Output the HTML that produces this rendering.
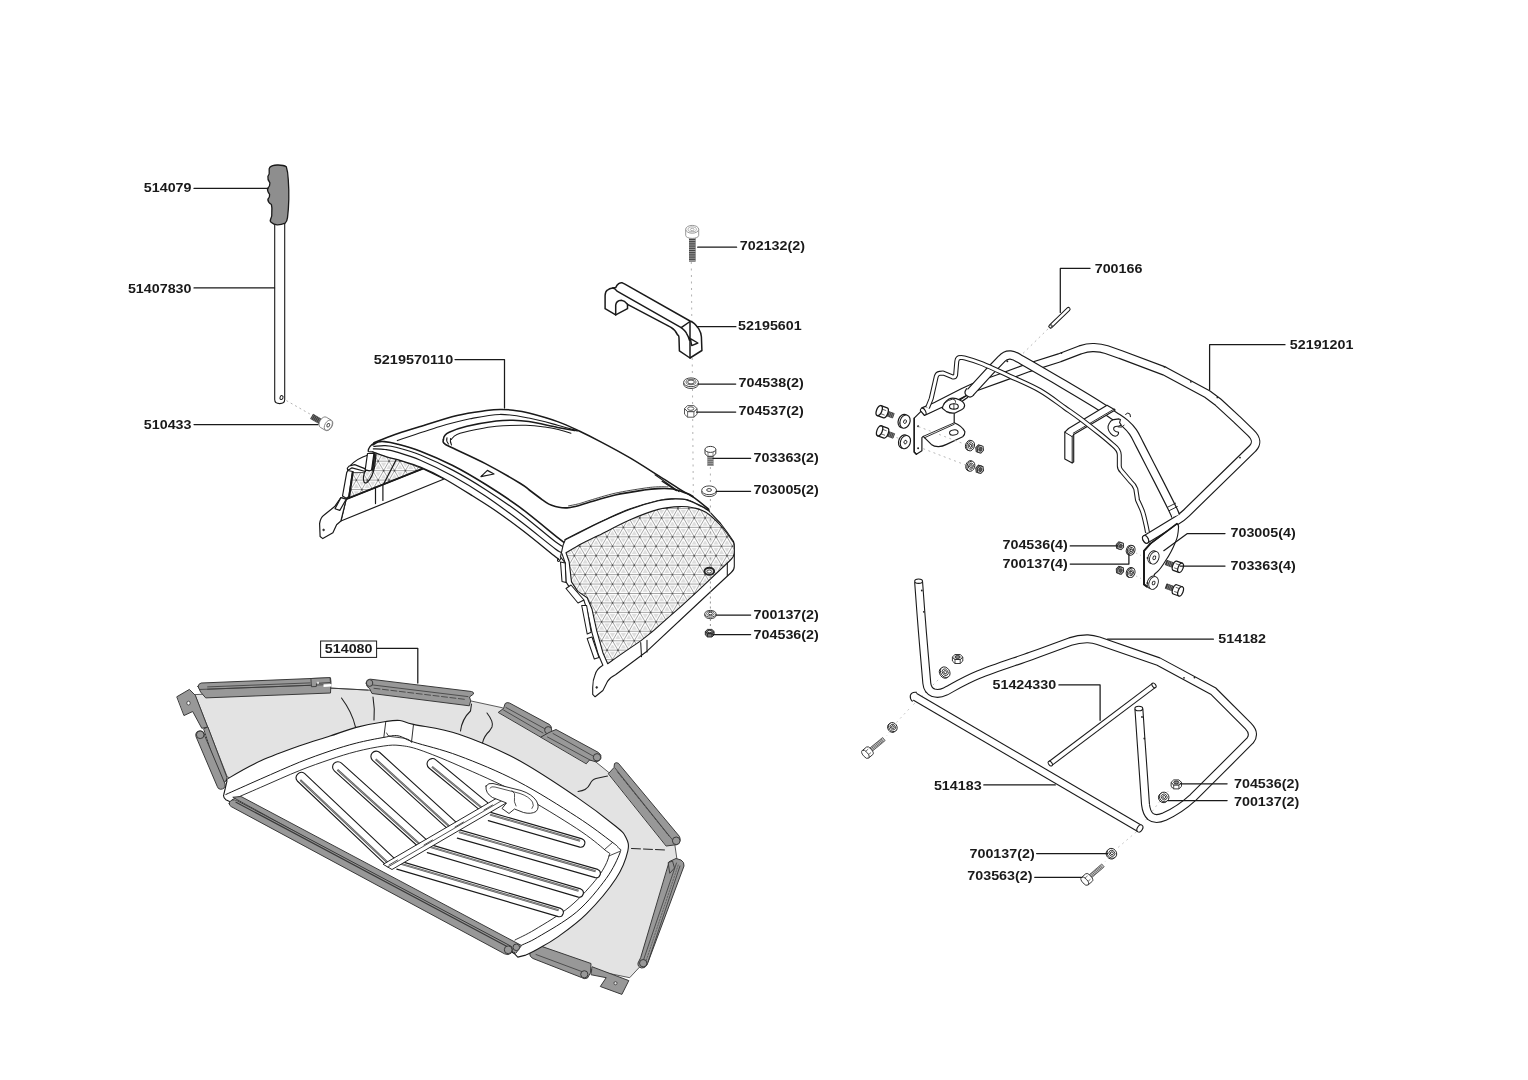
<!DOCTYPE html>
<html><head><meta charset="utf-8"><title>Parts diagram</title>
<style>
html,body{margin:0;padding:0;background:#fff;}
body{width:1528px;height:1080px;overflow:hidden;}
svg{display:block;}
text{font-family:"Liberation Sans",sans-serif;font-weight:bold;font-size:13.7px;fill:#1a1a1a;}
svg{will-change:transform;transform:translateZ(0);}
</style></head><body>
<svg width="1528" height="1080" viewBox="0 0 1528 1080">
<rect width="1528" height="1080" fill="#fff"/>
<g id="handle">
<path d="M274.7 222V399.5Q274.7 403.6 279.7 403.6Q284.7 403.6 284.7 399.5V222Z" fill="#fff" stroke="#1a1a1a" stroke-width="1.1" stroke-linejoin="round" stroke-linecap="round" />
<ellipse cx="281.5" cy="397.6" rx="1.5" ry="2.0" fill="#fff" stroke="#1a1a1a" stroke-width="1.0" transform="rotate(20 281.5 397.6)"/>
<path d="M269.9 167.2Q272 165.2 277.1 165Q283.5 164.8 286.3 166.8Q288 172 288.3 180Q289 190 288.8 199.3Q288.6 209 287.5 217.6Q287 221.5 285.2 223.1Q281 224.9 277.1 224.8Q273.5 224.6 271.8 222.8Q269.6 221.5 270.5 219.6Q272.3 216 271.8 212.4Q272.2 207.5 271.4 204.5Q267.6 202 267.9 199.3Q270 197 269.6 194.3Q267 191 267.6 188.4Q270.2 186 269.9 182.9Q267.3 179.5 267.9 176.4Q269.8 174 269.2 171.1Q268.8 168.6 269.9 167.2Z" fill="#8e8e8e" stroke="#1a1a1a" stroke-width="1.3" stroke-linejoin="round" stroke-linecap="round" />
<path d="M286.4 400.6L310.6 414.4" fill="none" stroke="#aaa" stroke-width="0.9" stroke-dasharray="2 3"/>
<g transform="translate(311.6 416.3) rotate(30.4)">
<rect x="0" y="-2.9" width="11.3" height="5.8" fill="#3a3a3a"/>
<line x1="1.2" y1="-2.9" x2="1.2" y2="2.9" stroke="#8a8a8a" stroke-width="0.6"/>
<line x1="3.0" y1="-2.9" x2="3.0" y2="2.9" stroke="#8a8a8a" stroke-width="0.6"/>
<line x1="4.8" y1="-2.9" x2="4.8" y2="2.9" stroke="#8a8a8a" stroke-width="0.6"/>
<line x1="6.6" y1="-2.9" x2="6.6" y2="2.9" stroke="#8a8a8a" stroke-width="0.6"/>
<line x1="8.4" y1="-2.9" x2="8.4" y2="2.9" stroke="#8a8a8a" stroke-width="0.6"/>
<line x1="10.2" y1="-2.9" x2="10.2" y2="2.9" stroke="#8a8a8a" stroke-width="0.6"/>
</g>
<g transform="translate(326.6 424.2) rotate(30.4)">
<path d="M-3.8 -5.9H2.2A3.6 5.9 0 0 1 2.2 5.9H-3.8A3.6 5.9 0 0 1 -3.8 -5.9Z" fill="#fff" stroke="#777" stroke-width="0.8"/>
<ellipse cx="2.0" cy="0" rx="3.4" ry="5.6" fill="#fff" stroke="#777" stroke-width="0.8"/>
<ellipse cx="2.0" cy="0" rx="1.3" ry="1.9" fill="#fff" stroke="#444" stroke-width="0.9"/>
</g>
</g>
<g id="small">
<path d="M691.3 262L691.8 322" fill="none" stroke="#a8a8a8" stroke-width="0.9" stroke-dasharray="2 4.5"/>
<path d="M692.2 358L692.4 377" fill="none" stroke="#a8a8a8" stroke-width="0.9" stroke-dasharray="2 4.5"/>
<path d="M692.5 389L692.6 405" fill="none" stroke="#a8a8a8" stroke-width="0.9" stroke-dasharray="2 4.5"/>
<path d="M692.7 419L693.3 494" fill="none" stroke="#a8a8a8" stroke-width="0.9" stroke-dasharray="2 4.5"/>
<path d="M710.4 467V485" fill="none" stroke="#a8a8a8" stroke-width="0.9" stroke-dasharray="2 4.5"/>
<path d="M710.4 619V629" fill="none" stroke="#8a8a8a" stroke-width="0.9" stroke-dasharray="2 3"/>
<rect x="689" y="237" width="6.6" height="24.6" fill="#444"/>
<line x1="689" y1="238.4" x2="695.6" y2="238.4" stroke="#ccc" stroke-width="0.7"/>
<line x1="689" y1="240.6" x2="695.6" y2="240.6" stroke="#ccc" stroke-width="0.7"/>
<line x1="689" y1="242.8" x2="695.6" y2="242.8" stroke="#ccc" stroke-width="0.7"/>
<line x1="689" y1="245.0" x2="695.6" y2="245.0" stroke="#ccc" stroke-width="0.7"/>
<line x1="689" y1="247.2" x2="695.6" y2="247.2" stroke="#ccc" stroke-width="0.7"/>
<line x1="689" y1="249.4" x2="695.6" y2="249.4" stroke="#ccc" stroke-width="0.7"/>
<line x1="689" y1="251.6" x2="695.6" y2="251.6" stroke="#ccc" stroke-width="0.7"/>
<line x1="689" y1="253.8" x2="695.6" y2="253.8" stroke="#ccc" stroke-width="0.7"/>
<line x1="689" y1="256.0" x2="695.6" y2="256.0" stroke="#ccc" stroke-width="0.7"/>
<line x1="689" y1="258.2" x2="695.6" y2="258.2" stroke="#ccc" stroke-width="0.7"/>
<line x1="689" y1="260.4" x2="695.6" y2="260.4" stroke="#ccc" stroke-width="0.7"/>
<path d="M685.7 229.3V235.4A6.5 3 0 0 0 698.7 235.4V229.3Z" fill="#fff" stroke="#8c8c8c" stroke-width="0.9"/>
<ellipse cx="692.2" cy="229.3" rx="6.5" ry="3.9" fill="#fff" stroke="#8c8c8c" stroke-width="0.9"/>
<ellipse cx="692.2" cy="229.3" rx="4.2" ry="2.4" fill="#fff" stroke="#9a9a9a" stroke-width="0.8"/>
<ellipse cx="692.2" cy="229.5" rx="1.8" ry="1.2" fill="#fff" stroke="#9a9a9a" stroke-width="0.8"/>
<ellipse cx="691" cy="384.1" rx="7.4" ry="4.4" fill="#fff" stroke="#333" stroke-width="0.9"/>
<ellipse cx="691" cy="382.3" rx="7.4" ry="4.4" fill="#fff" stroke="#333" stroke-width="0.9"/>
<ellipse cx="691" cy="382.0" rx="5.03" ry="2.73" fill="none" stroke="#333" stroke-width="0.7"/>
<ellipse cx="691" cy="382.0" rx="3.33" ry="1.98" fill="#fff" stroke="#333" stroke-width="0.9"/>
<path d="M684.5 408.6L687.6 411.6L693.9 411.6L697.1 408.6L697.1 414.2L693.9 417.2L687.6 417.2L684.5 414.2Z" fill="#fff" stroke="#444" stroke-width="0.9" stroke-linejoin="round"/>
<line x1="687.6" y1="411.6" x2="687.6" y2="417.2" stroke="#444" stroke-width="0.8"/>
<line x1="693.9" y1="411.6" x2="693.9" y2="417.2" stroke="#444" stroke-width="0.8"/>
<path d="M697.1 408.6L693.9 411.6L687.6 411.6L684.5 408.6L687.6 405.6L693.9 405.6Z" fill="#fff" stroke="#444" stroke-width="0.9" stroke-linejoin="round"/>
<ellipse cx="690.8" cy="408.6" rx="3.15" ry="1.76" fill="#fff" stroke="#444" stroke-width="0.9"/>
<rect x="707.4" y="456" width="6.1" height="10" fill="#555"/>
<line x1="707.4" y1="457.2" x2="713.5" y2="457.2" stroke="#ddd" stroke-width="0.7"/>
<line x1="707.4" y1="459.2" x2="713.5" y2="459.2" stroke="#ddd" stroke-width="0.7"/>
<line x1="707.4" y1="461.2" x2="713.5" y2="461.2" stroke="#ddd" stroke-width="0.7"/>
<line x1="707.4" y1="463.2" x2="713.5" y2="463.2" stroke="#ddd" stroke-width="0.7"/>
<line x1="707.4" y1="465.2" x2="713.5" y2="465.2" stroke="#ddd" stroke-width="0.7"/>
<path d="M705 449.6V453.8L707.8 456.3H713L715.8 453.8V449.6Z" fill="#fff" stroke="#3a3a3a" stroke-width="1.0" stroke-linejoin="round"/>
<line x1="708" y1="451.5" x2="708" y2="456" stroke="#555" stroke-width="0.7"/>
<line x1="713" y1="451.5" x2="713" y2="456" stroke="#555" stroke-width="0.7"/>
<ellipse cx="710.4" cy="449.4" rx="5.4" ry="3.0" fill="#fff" stroke="#3a3a3a" stroke-width="1.0"/>
<ellipse cx="709.1" cy="492.2" rx="7.4" ry="4.4" fill="#fff" stroke="#333" stroke-width="0.9"/>
<ellipse cx="709.1" cy="490.3" rx="7.4" ry="4.4" fill="#fff" stroke="#333" stroke-width="0.9"/>
<ellipse cx="709.1" cy="490.0" rx="2.44" ry="1.45" fill="#fff" stroke="#333" stroke-width="0.9"/>
<ellipse cx="710.4" cy="615.3" rx="5.7" ry="3.4" fill="#fff" stroke="#2a2a2a" stroke-width="0.9"/>
<ellipse cx="710.4" cy="613.8" rx="5.7" ry="3.4" fill="#fff" stroke="#2a2a2a" stroke-width="0.9"/>
<ellipse cx="710.4" cy="613.5" rx="3.88" ry="2.11" fill="none" stroke="#2a2a2a" stroke-width="0.7"/>
<ellipse cx="710.4" cy="613.5" rx="1.99" ry="1.19" fill="#fff" stroke="#2a2a2a" stroke-width="0.9"/>
<path d="M705.3 631.5L707.5 633.6L711.9 633.6L714.1 631.5L714.1 634.9L711.9 637.0L707.5 637.0L705.3 634.9Z" fill="#777" stroke="#222" stroke-width="0.9" stroke-linejoin="round"/>
<line x1="707.5" y1="633.6" x2="707.5" y2="637.0" stroke="#222" stroke-width="0.8"/>
<line x1="711.9" y1="633.6" x2="711.9" y2="637.0" stroke="#222" stroke-width="0.8"/>
<path d="M714.1 631.5L711.9 633.6L707.5 633.6L705.3 631.5L707.5 629.4L711.9 629.4Z" fill="#777" stroke="#222" stroke-width="0.9" stroke-linejoin="round"/>
<ellipse cx="709.7" cy="631.5" rx="2.20" ry="1.23" fill="#ddd" stroke="#222" stroke-width="0.9"/>
<path d="M605.1 308.7V295.5Q605.3 291.5 607.3 290.2Q609.5 288.3 612.6 288L615.7 287.6Q616.8 285 618.7 283.6Q620.5 282.6 622.3 282.8L624.9 284.1L690 321Q694.4 322.5 698.8 328.9Q701.2 333 701.4 336.8L701.9 350.5L690 358L679.4 350.9L679 338Q678.8 335 677.7 335.1Q675.5 330 670.6 327.2L627.5 304.3V308.7L615.7 314.9Z" fill="#fff" stroke="#1a1a1a" stroke-width="1.5" stroke-linejoin="round" stroke-linecap="round" />
<path d="M612.6 288Q615 288.3 617 291.1L681.2 327.6L690 321.5" fill="none" stroke="#1a1a1a" stroke-width="1.5" stroke-linecap="round" stroke-linejoin="round" />
<path d="M615.7 314.9V305.2Q616.2 300.6 621.4 300.3Q624.5 300.6 627.5 304.3" fill="none" stroke="#1a1a1a" stroke-width="1.5" stroke-linecap="round" stroke-linejoin="round" />
<path d="M681.2 327.6Q685.5 331 686.5 333.3Q688.8 337 689.5 340.4M690 321.9V358" fill="none" stroke="#1a1a1a" stroke-width="1.5" stroke-linecap="round" stroke-linejoin="round" />
<path d="M690.4 338.6L697.9 343L691.7 345.6Z" fill="#fff" stroke="#1a1a1a" stroke-width="1.4" stroke-linejoin="round" stroke-linecap="round" />
</g>
<g id="cover">
<clipPath id="mc1"><path d="M352.4 472.6L349.4 496L346.2 499.2L424.4 469.7Q398 458.5 376 452.9L373.5 469.5L366 470.5L363.2 472.6Z"/></clipPath>
<path d="M352.4 472.6L349.4 496L346.2 499.2L424.4 469.7Q398 458.5 376 452.9L373.5 469.5L366 470.5L363.2 472.6Z" fill="#dedede"/>
<g clip-path="url(#mc1)">
<path d="M343.0 432.85H428.0M343.0 442.30H428.0M343.0 451.75H428.0M343.0 461.20H428.0M343.0 470.65H428.0M343.0 480.10H428.0M343.0 489.55H428.0M343.0 499.00H428.0M343.0 508.45H428.0M343.0 517.90H428.0M353.06 448.0L321.92 502.0M363.96 448.0L332.82 502.0M374.86 448.0L343.72 502.0M385.76 448.0L354.62 502.0M396.66 448.0L365.52 502.0M316.04 448.0L347.18 502.0M407.56 448.0L376.42 502.0M326.94 448.0L358.08 502.0M418.46 448.0L387.32 502.0M337.84 448.0L368.98 502.0M429.36 448.0L398.22 502.0M348.74 448.0L379.88 502.0M440.26 448.0L409.12 502.0M359.64 448.0L390.78 502.0M451.16 448.0L420.02 502.0M370.54 448.0L401.68 502.0M381.44 448.0L412.58 502.0M392.34 448.0L423.48 502.0M403.24 448.0L434.38 502.0M414.14 448.0L445.28 502.0M425.04 448.0L456.18 502.0" fill="none" stroke="#fff" stroke-opacity="0.9" stroke-width="3.3"/>
<path d="M343.0 432.85H428.0M343.0 442.30H428.0M343.0 451.75H428.0M343.0 461.20H428.0M343.0 470.65H428.0M343.0 480.10H428.0M343.0 489.55H428.0M343.0 499.00H428.0M343.0 508.45H428.0M343.0 517.90H428.0M353.06 448.0L321.92 502.0M363.96 448.0L332.82 502.0M374.86 448.0L343.72 502.0M385.76 448.0L354.62 502.0M396.66 448.0L365.52 502.0M316.04 448.0L347.18 502.0M407.56 448.0L376.42 502.0M326.94 448.0L358.08 502.0M418.46 448.0L387.32 502.0M337.84 448.0L368.98 502.0M429.36 448.0L398.22 502.0M348.74 448.0L379.88 502.0M440.26 448.0L409.12 502.0M359.64 448.0L390.78 502.0M451.16 448.0L420.02 502.0M370.54 448.0L401.68 502.0M381.44 448.0L412.58 502.0M392.34 448.0L423.48 502.0M403.24 448.0L434.38 502.0M414.14 448.0L445.28 502.0M425.04 448.0L456.18 502.0" fill="none" stroke="#8a8a8a" stroke-width="0.75"/>
<path d="M329.10 432.85h0M340.00 432.85h0M350.90 432.85h0M361.80 432.85h0M372.70 432.85h0M383.60 432.85h0M394.50 432.85h0M405.40 432.85h0M416.30 432.85h0M427.20 432.85h0M438.10 432.85h0M323.65 442.30h0M334.55 442.30h0M345.45 442.30h0M356.35 442.30h0M367.25 442.30h0M378.15 442.30h0M389.05 442.30h0M399.95 442.30h0M410.85 442.30h0M421.75 442.30h0M432.65 442.30h0M443.55 442.30h0M329.10 451.75h0M340.00 451.75h0M350.90 451.75h0M361.80 451.75h0M372.70 451.75h0M383.60 451.75h0M394.50 451.75h0M405.40 451.75h0M416.30 451.75h0M427.20 451.75h0M438.10 451.75h0M323.65 461.20h0M334.55 461.20h0M345.45 461.20h0M356.35 461.20h0M367.25 461.20h0M378.15 461.20h0M389.05 461.20h0M399.95 461.20h0M410.85 461.20h0M421.75 461.20h0M432.65 461.20h0M443.55 461.20h0M329.10 470.65h0M340.00 470.65h0M350.90 470.65h0M361.80 470.65h0M372.70 470.65h0M383.60 470.65h0M394.50 470.65h0M405.40 470.65h0M416.30 470.65h0M427.20 470.65h0M438.10 470.65h0M323.65 480.10h0M334.55 480.10h0M345.45 480.10h0M356.35 480.10h0M367.25 480.10h0M378.15 480.10h0M389.05 480.10h0M399.95 480.10h0M410.85 480.10h0M421.75 480.10h0M432.65 480.10h0M443.55 480.10h0M329.10 489.55h0M340.00 489.55h0M350.90 489.55h0M361.80 489.55h0M372.70 489.55h0M383.60 489.55h0M394.50 489.55h0M405.40 489.55h0M416.30 489.55h0M427.20 489.55h0M438.10 489.55h0M323.65 499.00h0M334.55 499.00h0M345.45 499.00h0M356.35 499.00h0M367.25 499.00h0M378.15 499.00h0M389.05 499.00h0M399.95 499.00h0M410.85 499.00h0M421.75 499.00h0M432.65 499.00h0M443.55 499.00h0M329.10 508.45h0M340.00 508.45h0M350.90 508.45h0M361.80 508.45h0M372.70 508.45h0M383.60 508.45h0M394.50 508.45h0M405.40 508.45h0M416.30 508.45h0M427.20 508.45h0M438.10 508.45h0M323.65 517.90h0M334.55 517.90h0M345.45 517.90h0M356.35 517.90h0M367.25 517.90h0M378.15 517.90h0M389.05 517.90h0M399.95 517.90h0M410.85 517.90h0M421.75 517.90h0M432.65 517.90h0M443.55 517.90h0" fill="none" stroke="#505050" stroke-width="1.7" stroke-linecap="round"/>
</g>
<path d="M352.4 472.6L349.4 496L346.2 499.2L424.4 469.7Q398 458.5 376 452.9L373.5 469.5L366 470.5L363.2 472.6Z" fill="none" stroke="#1a1a1a" stroke-width="0.8" stroke-linejoin="round"/>
<path d="M346.2 499.2L340.9 521L444.1 479L422.9 468.6Z" fill="#fff" stroke="#1a1a1a" stroke-width="1.2" stroke-linejoin="round" stroke-linecap="round" />
<path d="M346.2 499.2L422.9 468.6" fill="none" stroke="#1a1a1a" stroke-width="1.8" stroke-linecap="round" stroke-linejoin="round" />
<path d="M375.5 487V503.6M382.9 484.5V500.5" fill="none" stroke="#1a1a1a" stroke-width="1.2" stroke-linecap="round" stroke-linejoin="round" />
<path d="M365.4 470.5Q362.5 477 363.8 481.1Q364.5 484 367 482.5Q373 477 374.9 465.1L376 454.5" fill="none" stroke="#1a1a1a" stroke-width="1.2" stroke-linecap="round" stroke-linejoin="round" />
<path d="M396.2 459.8L383.5 484.3" fill="none" stroke="#1a1a1a" stroke-width="1.3" stroke-linecap="round" stroke-linejoin="round" />
<path d="M340.9 521L336.6 524.7L332.9 532.7L322.8 538.6L320.1 536.5L319.6 523.7Q320.5 517.5 323.8 515.2L331.3 509.3L335 506.2L340.9 497.6L346.2 499.2Z" fill="#fff" stroke="#1a1a1a" stroke-width="1.2" stroke-linejoin="round" stroke-linecap="round" />
<ellipse cx="323.6" cy="529.9" rx="0.9" ry="0.9" fill="#333" stroke="#1a1a1a" stroke-width="0.6"/>
<path d="M340.9 497.6L346.2 499.2L339.8 510.4L335 508.8Z" fill="#fff" stroke="#1a1a1a" stroke-width="1.2" stroke-linejoin="round" stroke-linecap="round" />
<path d="M347.3 468.3Q349 465.6 350.5 465.7L354.7 464.6L365.4 468.9V471.5L352 467.8L347.8 470.5Z" fill="#fff" stroke="#1a1a1a" stroke-width="1.2" stroke-linejoin="round" stroke-linecap="round" />
<path d="M350.5 465.4Q357 458.5 368 455" fill="none" stroke="#1a1a1a" stroke-width="1.2" stroke-linecap="round" stroke-linejoin="round" />
<path d="M347.8 470.5L352.6 471.5L348.9 496.5L346.2 498.3L342.5 496L346.7 472.6Z" fill="#fff" stroke="#1a1a1a" stroke-width="1.2" stroke-linejoin="round" stroke-linecap="round" />
<path d="M352.8 472L349.2 496.5" fill="none" stroke="#1a1a1a" stroke-width="2.0" stroke-linecap="round" stroke-linejoin="round" />
<path d="M367.5 453.5L373.9 453.5L371.6 470L369.6 470.8L365.2 469.8Z" fill="#fff" stroke="#1a1a1a" stroke-width="1.2" stroke-linejoin="round" stroke-linecap="round" />
<path d="M374.6 454L372.6 469.6" fill="none" stroke="#1a1a1a" stroke-width="1.8" stroke-linecap="round" stroke-linejoin="round" />
<path d="M373.9 442.8C377.4 441.4 387.7 437.1 395.0 434.5C402.3 431.9 407.4 430.5 417.8 427.3C428.2 424.1 445.7 418.3 457.1 415.5C468.6 412.7 479.4 411.6 486.5 410.6C493.6 409.6 495.6 409.5 500.0 409.4C504.4 409.3 508.2 409.6 513.0 410.2C517.8 410.8 521.4 411.1 528.8 413.0C536.2 414.9 549.2 418.6 557.6 421.6C566.0 424.6 572.0 427.6 579.2 431.0C586.4 434.4 592.4 437.4 600.8 441.8C609.2 446.2 620.0 452.0 629.6 457.6C639.2 463.2 650.0 470.3 658.4 475.6C666.8 480.9 674.0 485.6 680.0 489.3C686.0 493.0 689.6 494.5 694.4 497.9C699.2 501.2 706.4 507.5 708.8 509.4L708.8 510.9C707.6 510.2 705.2 508.4 701.6 506.6C698.0 504.8 692.0 501.4 687.2 500.1C682.4 498.9 677.6 499.0 672.8 499.1C668.0 499.2 665.6 499.1 658.4 500.8C651.2 502.5 638.5 506.2 629.6 509.4C620.7 512.6 611.7 517.0 605.1 520.0C598.5 523.0 596.6 524.0 590.0 527.3C583.4 530.6 569.4 537.6 565.3 539.7L571.2 547.8C569.1 546.2 567.2 545.1 558.7 538.4C550.2 531.7 532.2 516.4 520.0 507.4C507.8 498.4 496.6 491.3 485.4 484.3C474.2 477.3 463.5 471.0 452.7 465.5C441.9 460.0 429.7 454.8 420.4 451.2C411.1 447.6 402.9 445.5 396.9 443.9C390.9 442.3 387.5 441.9 384.4 441.6C381.2 441.3 379.9 441.4 378.0 442.0C376.1 442.6 373.7 444.4 372.8 444.9Z" fill="#fff" stroke="#1a1a1a" stroke-width="0.1" stroke-linejoin="round" stroke-linecap="round" />
<path d="M373.9 442.8C377.4 441.4 387.7 437.1 395.0 434.5C402.3 431.9 407.4 430.5 417.8 427.3C428.2 424.1 445.7 418.3 457.1 415.5C468.6 412.7 479.4 411.6 486.5 410.6C493.6 409.6 495.6 409.5 500.0 409.4C504.4 409.3 508.2 409.6 513.0 410.2C517.8 410.8 521.4 411.1 528.8 413.0C536.2 414.9 549.2 418.6 557.6 421.6C566.0 424.6 572.0 427.6 579.2 431.0C586.4 434.4 592.4 437.4 600.8 441.8C609.2 446.2 620.0 452.0 629.6 457.6C639.2 463.2 650.0 470.3 658.4 475.6C666.8 480.9 674.0 485.6 680.0 489.3C686.0 493.0 689.6 494.5 694.4 497.9C699.2 501.2 706.4 507.5 708.8 509.4" fill="none" stroke="#1a1a1a" stroke-width="1.5" stroke-linecap="round" stroke-linejoin="round" />
<path d="M397.3 440.6C404.4 438.2 427.9 430.1 440.0 426.5C452.1 422.9 460.0 420.8 470.0 418.8C480.0 416.8 490.2 414.5 500.0 414.4C509.8 414.3 519.2 416.2 528.8 418.0C538.4 419.8 549.4 423.0 557.6 425.2C565.8 427.4 574.4 430.0 577.8 431.0" fill="none" stroke="#1a1a1a" stroke-width="1.05" stroke-linecap="round" stroke-linejoin="round" />
<path d="M372.8 444.9C373.7 444.4 376.1 442.6 378.0 442.0C379.9 441.4 381.2 441.3 384.4 441.6C387.5 441.9 390.9 442.3 396.9 443.9C402.9 445.5 411.1 447.6 420.4 451.2C429.7 454.8 441.9 460.0 452.7 465.5C463.5 471.0 474.2 477.3 485.4 484.3C496.6 491.3 507.8 498.4 520.0 507.4C532.2 516.4 550.2 531.7 558.7 538.4C567.2 545.1 569.1 546.2 571.2 547.8L563.5 552Q560 555 558.1 558.9L558.1 558.9C557.6 558.5 561.3 561.5 555.4 556.8C549.5 552.1 532.7 538.3 522.7 530.6C512.7 522.9 503.7 516.3 495.3 510.5C486.9 504.7 481.0 501.2 472.4 495.8C463.8 490.4 452.1 483.0 443.4 478.2C434.7 473.4 427.5 470.0 420.4 467.1C413.3 464.2 406.6 462.4 400.8 460.6C395.0 458.9 390.5 458.1 385.8 456.6C381.1 455.1 375.0 452.6 372.8 451.8Q369 450.5 369.3 448Z" fill="#fff" stroke="#1a1a1a" stroke-width="0.1" stroke-linejoin="round" stroke-linecap="round" />
<path d="M372.8 444.9C373.7 444.4 376.1 442.6 378.0 442.0C379.9 441.4 381.2 441.3 384.4 441.6C387.5 441.9 390.9 442.3 396.9 443.9C402.9 445.5 411.1 447.6 420.4 451.2C429.7 454.8 441.9 460.0 452.7 465.5C463.5 471.0 474.2 477.3 485.4 484.3C496.6 491.3 507.8 498.4 520.0 507.4C532.2 516.4 550.2 531.7 558.7 538.4C567.2 545.1 569.1 546.2 571.2 547.8" fill="none" stroke="#1a1a1a" stroke-width="1.6" stroke-linecap="round" stroke-linejoin="round" />
<path d="M373.9 446.4C375.8 446.3 381.2 445.4 385.0 445.6C388.8 445.8 391.0 445.9 396.9 447.5C402.8 449.1 411.1 451.2 420.4 455.0C429.7 458.8 441.9 464.4 452.7 470.1C463.5 475.8 474.2 482.2 485.4 489.4C496.6 496.6 508.3 504.5 520.0 513.2C531.7 521.9 547.4 535.7 555.4 541.7C563.4 547.7 565.8 548.0 567.9 549.2" fill="none" stroke="#1a1a1a" stroke-width="1.2" stroke-linecap="round" stroke-linejoin="round" />
<path d="M373.3 448.8C375.2 448.9 381.1 448.9 385.0 449.5C388.9 450.1 391.0 450.3 396.9 452.1C402.8 453.9 411.1 456.2 420.4 460.2C429.7 464.2 441.9 470.0 452.7 476.0C463.5 482.0 474.2 488.5 485.4 496.0C496.6 503.5 508.3 512.2 520.0 521.0C531.7 529.8 548.2 543.6 555.4 548.9C562.6 554.2 562.0 552.0 563.3 552.6" fill="none" stroke="#1a1a1a" stroke-width="1.2" stroke-linecap="round" stroke-linejoin="round" />
<path d="M372.8 451.8C375.0 452.6 381.1 455.1 385.8 456.6C390.5 458.1 395.0 458.9 400.8 460.6C406.6 462.4 413.3 464.2 420.4 467.1C427.5 470.0 434.7 473.4 443.4 478.2C452.1 483.0 463.8 490.4 472.4 495.8C481.0 501.2 486.9 504.7 495.3 510.5C503.7 516.3 512.7 522.9 522.7 530.6C532.7 538.3 549.5 552.1 555.4 556.8C561.3 561.5 557.6 558.5 558.1 558.9" fill="none" stroke="#1a1a1a" stroke-width="1.3" stroke-linecap="round" stroke-linejoin="round" />
<path d="M372.8 451.8Q368.3 452 368.1 451.4Q368.6 446 374.6 442.9" fill="none" stroke="#1a1a1a" stroke-width="1.2" stroke-linecap="round" stroke-linejoin="round" />
<path d="M558.1 558.9Q556.5 561.5 559 561.5Q561 558 563.2 554.2L571.2 548.2" fill="none" stroke="#1a1a1a" stroke-width="1.1" stroke-linecap="round" stroke-linejoin="round" />
<path d="M443.4 439.6C443.6 439.0 443.5 437.2 444.5 436.0C445.5 434.8 445.5 433.8 449.2 432.2C452.9 430.6 459.0 428.2 466.9 426.3C474.8 424.4 488.6 422.0 496.3 421.0C504.0 420.0 507.6 420.1 513.0 420.2C518.4 420.3 521.4 420.4 528.8 421.6C536.2 422.8 549.9 425.9 557.6 427.4C565.3 428.9 572.0 430.0 574.9 430.5" fill="none" stroke="#1a1a1a" stroke-width="1.5" stroke-linecap="round" stroke-linejoin="round" />
<path d="M451.2 439.5C452.2 438.6 453.0 436.0 457.0 434.4C461.0 432.8 468.4 431.1 475.0 429.8C481.6 428.5 487.8 427.1 496.3 426.3C504.8 425.6 517.7 425.2 525.8 425.3C533.9 425.4 539.3 426.2 545.0 427.0C550.7 427.8 555.7 429.0 560.0 430.0C564.3 431.0 569.2 432.7 571.0 433.2" fill="none" stroke="#1a1a1a" stroke-width="1.05" stroke-linecap="round" stroke-linejoin="round" />
<path d="M443.4 439.6C443.4 440.0 442.9 441.3 443.2 442.0C443.4 442.7 443.8 443.1 444.9 443.9C445.9 444.6 442.8 443.2 449.5 446.5C456.2 449.8 473.6 457.5 485.4 463.6C497.1 469.7 512.7 478.8 520.0 483.2C527.3 487.6 525.6 487.2 529.3 490.0C533.0 492.8 539.1 497.4 542.4 499.8C545.7 502.2 546.7 503.0 548.9 504.1C551.1 505.2 553.2 505.8 555.4 506.4C557.6 507.0 559.8 507.5 562.0 507.7C564.2 507.9 565.8 508.0 568.5 507.7C571.2 507.4 574.7 506.6 578.3 505.7C581.9 504.8 583.9 503.9 590.0 502.1C596.1 500.3 606.2 497.0 615.2 495.0C624.2 493.0 636.8 491.1 644.0 490.0C651.2 488.9 653.6 488.8 658.4 488.6C663.2 488.4 668.0 488.2 672.8 489.0C677.6 489.8 683.8 492.4 687.2 493.6C690.6 494.9 692.0 496.0 693.0 496.5" fill="none" stroke="#1a1a1a" stroke-width="1.6" stroke-linecap="round" stroke-linejoin="round" />
<path d="M568.5 505.9C570.1 505.6 574.7 504.8 578.3 503.9C581.9 503.0 583.9 502.1 590.0 500.3C596.1 498.5 606.2 495.2 615.2 493.2C624.2 491.2 636.8 489.3 644.0 488.2C651.2 487.1 654.4 487.0 658.4 486.8C662.4 486.6 666.4 486.9 668.0 486.9" fill="none" stroke="#1a1a1a" stroke-width="0.8" stroke-linecap="round" stroke-linejoin="round" />
<path d="M447 437.8Q445.8 441 448.5 444M450.5 438.5Q449.8 441.5 451.5 445" fill="none" stroke="#1a1a1a" stroke-width="1.05" stroke-linecap="round" stroke-linejoin="round" />
<path d="M655 474.8L679 491.6M662 481.2L676.5 490.8" fill="none" stroke="#1a1a1a" stroke-width="1.05" stroke-linecap="round" stroke-linejoin="round" />
<path d="M480.9 476.6L487.4 470.4L494 474Z" fill="#fff" stroke="#1a1a1a" stroke-width="1.2" stroke-linejoin="round" stroke-linecap="round" />
<path d="M565.3 539.7C569.4 537.6 583.4 530.6 590.0 527.3C596.6 524.0 598.5 523.0 605.1 520.0C611.7 517.0 620.7 512.6 629.6 509.4C638.5 506.2 651.2 502.5 658.4 500.8C665.6 499.1 668.0 499.2 672.8 499.1C677.6 499.0 682.4 498.9 687.2 500.1C692.0 501.4 698.0 504.8 701.6 506.6C705.2 508.4 707.6 510.2 708.8 510.9" fill="none" stroke="#1a1a1a" stroke-width="1.8" stroke-linecap="round" stroke-linejoin="round" />
<path d="M563.1 545.1L560.5 556.8L565.2 563L566 581.9L573 592.9L584.1 600.8L587.2 610.3L591.9 632.3L598.2 654.3L602.9 665.3Q596.5 669 595.1 674.8Q592.7 680 592.7 687.4V694.4L595.1 696.8L602.9 690.5L607.7 681.1Q610 677.5 615.5 674.8L647 651.2L697.4 604L731.2 572.5Q734.3 570 734.3 566.2V545.7Q733.5 541 733.4 541.2Q727 531.5 720.6 523.5L708.8 510.9L708.8 510.9C707.6 510.2 705.2 508.4 701.6 506.6C698.0 504.8 692.0 501.4 687.2 500.1C682.4 498.9 677.6 499.0 672.8 499.1C668.0 499.2 665.6 499.1 658.4 500.8C651.2 502.5 638.5 506.2 629.6 509.4C620.7 512.6 611.7 517.0 605.1 520.0C598.5 523.0 596.6 524.0 590.0 527.3C583.4 530.6 569.4 537.6 565.3 539.7Z" fill="#fff" stroke="#1a1a1a" stroke-width="1.1" stroke-linejoin="round" stroke-linecap="round" />
<clipPath id="mc2"><path d="M566 552.8L569.1 561.5L571.5 581.9L577.8 591.4L587.2 597.7L591.9 608.7L596.7 630.7L602.9 652.7L607.7 663.8Q622 653.5 640.7 640.9Q654 631 665.9 619.7Q682 606 697.4 591.4L730 560.5Q734 557 734.3 553L734.3 547Q734 543 733.4 542.2L733.4 542.2C731.3 539.4 725.2 530.5 720.6 525.5C716.0 520.5 710.3 515.2 705.9 512.3C701.5 509.4 698.7 508.9 694.4 508.0C690.1 507.1 686.0 506.4 680.0 506.6C674.0 506.8 666.8 507.2 658.4 509.4C650.0 511.6 639.5 515.7 629.6 520.0C619.7 524.3 606.8 531.4 598.9 535.3C591.0 539.2 587.5 540.6 582.0 543.5C576.5 546.4 568.7 551.2 566.0 552.8Z"/></clipPath>
<path d="M566 552.8L569.1 561.5L571.5 581.9L577.8 591.4L587.2 597.7L591.9 608.7L596.7 630.7L602.9 652.7L607.7 663.8Q622 653.5 640.7 640.9Q654 631 665.9 619.7Q682 606 697.4 591.4L730 560.5Q734 557 734.3 553L734.3 547Q734 543 733.4 542.2L733.4 542.2C731.3 539.4 725.2 530.5 720.6 525.5C716.0 520.5 710.3 515.2 705.9 512.3C701.5 509.4 698.7 508.9 694.4 508.0C690.1 507.1 686.0 506.4 680.0 506.6C674.0 506.8 666.8 507.2 658.4 509.4C650.0 511.6 639.5 515.7 629.6 520.0C619.7 524.3 606.8 531.4 598.9 535.3C591.0 539.2 587.5 540.6 582.0 543.5C576.5 546.4 568.7 551.2 566.0 552.8Z" fill="#dedede"/>
<g clip-path="url(#mc2)">
<path d="M562.0 489.55H738.0M562.0 499.00H738.0M562.0 508.45H738.0M562.0 517.90H738.0M562.0 527.35H738.0M562.0 536.80H738.0M562.0 546.25H738.0M562.0 555.70H738.0M562.0 565.15H738.0M562.0 574.60H738.0M562.0 584.05H738.0M562.0 593.50H738.0M562.0 602.95H738.0M562.0 612.40H738.0M562.0 621.85H738.0M562.0 631.30H738.0M562.0 640.75H738.0M562.0 650.20H738.0M562.0 659.65H738.0M562.0 669.10H738.0M562.0 678.55H738.0M467.66 503.0L562.82 668.0M478.56 503.0L573.72 668.0M489.46 503.0L584.62 668.0M500.36 503.0L595.52 668.0M511.26 503.0L606.42 668.0M522.16 503.0L617.32 668.0M533.06 503.0L628.22 668.0M543.96 503.0L639.12 668.0M572.04 503.0L476.88 668.0M554.86 503.0L650.02 668.0M582.94 503.0L487.78 668.0M565.76 503.0L660.92 668.0M593.84 503.0L498.68 668.0M576.66 503.0L671.82 668.0M604.74 503.0L509.58 668.0M587.56 503.0L682.72 668.0M615.64 503.0L520.48 668.0M598.46 503.0L693.62 668.0M626.54 503.0L531.38 668.0M609.36 503.0L704.52 668.0M637.44 503.0L542.28 668.0M620.26 503.0L715.42 668.0M648.34 503.0L553.18 668.0M631.16 503.0L726.32 668.0M659.24 503.0L564.08 668.0M642.06 503.0L737.22 668.0M670.14 503.0L574.98 668.0M652.96 503.0L748.12 668.0M681.04 503.0L585.88 668.0M663.86 503.0L759.02 668.0M691.94 503.0L596.78 668.0M674.76 503.0L769.92 668.0M702.84 503.0L607.68 668.0M685.66 503.0L780.82 668.0M713.74 503.0L618.58 668.0M696.56 503.0L791.72 668.0M724.64 503.0L629.48 668.0M707.46 503.0L802.62 668.0M735.54 503.0L640.38 668.0M718.36 503.0L813.52 668.0M746.44 503.0L651.28 668.0M729.26 503.0L824.42 668.0M757.34 503.0L662.18 668.0M768.24 503.0L673.08 668.0M779.14 503.0L683.98 668.0M790.04 503.0L694.88 668.0M800.94 503.0L705.78 668.0M811.84 503.0L716.68 668.0M822.74 503.0L727.58 668.0" fill="none" stroke="#fff" stroke-opacity="0.9" stroke-width="3.3"/>
<path d="M562.0 489.55H738.0M562.0 499.00H738.0M562.0 508.45H738.0M562.0 517.90H738.0M562.0 527.35H738.0M562.0 536.80H738.0M562.0 546.25H738.0M562.0 555.70H738.0M562.0 565.15H738.0M562.0 574.60H738.0M562.0 584.05H738.0M562.0 593.50H738.0M562.0 602.95H738.0M562.0 612.40H738.0M562.0 621.85H738.0M562.0 631.30H738.0M562.0 640.75H738.0M562.0 650.20H738.0M562.0 659.65H738.0M562.0 669.10H738.0M562.0 678.55H738.0M467.66 503.0L562.82 668.0M478.56 503.0L573.72 668.0M489.46 503.0L584.62 668.0M500.36 503.0L595.52 668.0M511.26 503.0L606.42 668.0M522.16 503.0L617.32 668.0M533.06 503.0L628.22 668.0M543.96 503.0L639.12 668.0M572.04 503.0L476.88 668.0M554.86 503.0L650.02 668.0M582.94 503.0L487.78 668.0M565.76 503.0L660.92 668.0M593.84 503.0L498.68 668.0M576.66 503.0L671.82 668.0M604.74 503.0L509.58 668.0M587.56 503.0L682.72 668.0M615.64 503.0L520.48 668.0M598.46 503.0L693.62 668.0M626.54 503.0L531.38 668.0M609.36 503.0L704.52 668.0M637.44 503.0L542.28 668.0M620.26 503.0L715.42 668.0M648.34 503.0L553.18 668.0M631.16 503.0L726.32 668.0M659.24 503.0L564.08 668.0M642.06 503.0L737.22 668.0M670.14 503.0L574.98 668.0M652.96 503.0L748.12 668.0M681.04 503.0L585.88 668.0M663.86 503.0L759.02 668.0M691.94 503.0L596.78 668.0M674.76 503.0L769.92 668.0M702.84 503.0L607.68 668.0M685.66 503.0L780.82 668.0M713.74 503.0L618.58 668.0M696.56 503.0L791.72 668.0M724.64 503.0L629.48 668.0M707.46 503.0L802.62 668.0M735.54 503.0L640.38 668.0M718.36 503.0L813.52 668.0M746.44 503.0L651.28 668.0M729.26 503.0L824.42 668.0M757.34 503.0L662.18 668.0M768.24 503.0L673.08 668.0M779.14 503.0L683.98 668.0M790.04 503.0L694.88 668.0M800.94 503.0L705.78 668.0M811.84 503.0L716.68 668.0M822.74 503.0L727.58 668.0" fill="none" stroke="#8a8a8a" stroke-width="0.75"/>
<path d="M547.10 489.55h0M558.00 489.55h0M568.90 489.55h0M579.80 489.55h0M590.70 489.55h0M601.60 489.55h0M612.50 489.55h0M623.40 489.55h0M634.30 489.55h0M645.20 489.55h0M656.10 489.55h0M667.00 489.55h0M677.90 489.55h0M688.80 489.55h0M699.70 489.55h0M710.60 489.55h0M721.50 489.55h0M732.40 489.55h0M743.30 489.55h0M754.20 489.55h0M552.55 499.00h0M563.45 499.00h0M574.35 499.00h0M585.25 499.00h0M596.15 499.00h0M607.05 499.00h0M617.95 499.00h0M628.85 499.00h0M639.75 499.00h0M650.65 499.00h0M661.55 499.00h0M672.45 499.00h0M683.35 499.00h0M694.25 499.00h0M705.15 499.00h0M716.05 499.00h0M726.95 499.00h0M737.85 499.00h0M748.75 499.00h0M547.10 508.45h0M558.00 508.45h0M568.90 508.45h0M579.80 508.45h0M590.70 508.45h0M601.60 508.45h0M612.50 508.45h0M623.40 508.45h0M634.30 508.45h0M645.20 508.45h0M656.10 508.45h0M667.00 508.45h0M677.90 508.45h0M688.80 508.45h0M699.70 508.45h0M710.60 508.45h0M721.50 508.45h0M732.40 508.45h0M743.30 508.45h0M754.20 508.45h0M552.55 517.90h0M563.45 517.90h0M574.35 517.90h0M585.25 517.90h0M596.15 517.90h0M607.05 517.90h0M617.95 517.90h0M628.85 517.90h0M639.75 517.90h0M650.65 517.90h0M661.55 517.90h0M672.45 517.90h0M683.35 517.90h0M694.25 517.90h0M705.15 517.90h0M716.05 517.90h0M726.95 517.90h0M737.85 517.90h0M748.75 517.90h0M547.10 527.35h0M558.00 527.35h0M568.90 527.35h0M579.80 527.35h0M590.70 527.35h0M601.60 527.35h0M612.50 527.35h0M623.40 527.35h0M634.30 527.35h0M645.20 527.35h0M656.10 527.35h0M667.00 527.35h0M677.90 527.35h0M688.80 527.35h0M699.70 527.35h0M710.60 527.35h0M721.50 527.35h0M732.40 527.35h0M743.30 527.35h0M754.20 527.35h0M552.55 536.80h0M563.45 536.80h0M574.35 536.80h0M585.25 536.80h0M596.15 536.80h0M607.05 536.80h0M617.95 536.80h0M628.85 536.80h0M639.75 536.80h0M650.65 536.80h0M661.55 536.80h0M672.45 536.80h0M683.35 536.80h0M694.25 536.80h0M705.15 536.80h0M716.05 536.80h0M726.95 536.80h0M737.85 536.80h0M748.75 536.80h0M547.10 546.25h0M558.00 546.25h0M568.90 546.25h0M579.80 546.25h0M590.70 546.25h0M601.60 546.25h0M612.50 546.25h0M623.40 546.25h0M634.30 546.25h0M645.20 546.25h0M656.10 546.25h0M667.00 546.25h0M677.90 546.25h0M688.80 546.25h0M699.70 546.25h0M710.60 546.25h0M721.50 546.25h0M732.40 546.25h0M743.30 546.25h0M754.20 546.25h0M552.55 555.70h0M563.45 555.70h0M574.35 555.70h0M585.25 555.70h0M596.15 555.70h0M607.05 555.70h0M617.95 555.70h0M628.85 555.70h0M639.75 555.70h0M650.65 555.70h0M661.55 555.70h0M672.45 555.70h0M683.35 555.70h0M694.25 555.70h0M705.15 555.70h0M716.05 555.70h0M726.95 555.70h0M737.85 555.70h0M748.75 555.70h0M547.10 565.15h0M558.00 565.15h0M568.90 565.15h0M579.80 565.15h0M590.70 565.15h0M601.60 565.15h0M612.50 565.15h0M623.40 565.15h0M634.30 565.15h0M645.20 565.15h0M656.10 565.15h0M667.00 565.15h0M677.90 565.15h0M688.80 565.15h0M699.70 565.15h0M710.60 565.15h0M721.50 565.15h0M732.40 565.15h0M743.30 565.15h0M754.20 565.15h0M552.55 574.60h0M563.45 574.60h0M574.35 574.60h0M585.25 574.60h0M596.15 574.60h0M607.05 574.60h0M617.95 574.60h0M628.85 574.60h0M639.75 574.60h0M650.65 574.60h0M661.55 574.60h0M672.45 574.60h0M683.35 574.60h0M694.25 574.60h0M705.15 574.60h0M716.05 574.60h0M726.95 574.60h0M737.85 574.60h0M748.75 574.60h0M547.10 584.05h0M558.00 584.05h0M568.90 584.05h0M579.80 584.05h0M590.70 584.05h0M601.60 584.05h0M612.50 584.05h0M623.40 584.05h0M634.30 584.05h0M645.20 584.05h0M656.10 584.05h0M667.00 584.05h0M677.90 584.05h0M688.80 584.05h0M699.70 584.05h0M710.60 584.05h0M721.50 584.05h0M732.40 584.05h0M743.30 584.05h0M754.20 584.05h0M552.55 593.50h0M563.45 593.50h0M574.35 593.50h0M585.25 593.50h0M596.15 593.50h0M607.05 593.50h0M617.95 593.50h0M628.85 593.50h0M639.75 593.50h0M650.65 593.50h0M661.55 593.50h0M672.45 593.50h0M683.35 593.50h0M694.25 593.50h0M705.15 593.50h0M716.05 593.50h0M726.95 593.50h0M737.85 593.50h0M748.75 593.50h0M547.10 602.95h0M558.00 602.95h0M568.90 602.95h0M579.80 602.95h0M590.70 602.95h0M601.60 602.95h0M612.50 602.95h0M623.40 602.95h0M634.30 602.95h0M645.20 602.95h0M656.10 602.95h0M667.00 602.95h0M677.90 602.95h0M688.80 602.95h0M699.70 602.95h0M710.60 602.95h0M721.50 602.95h0M732.40 602.95h0M743.30 602.95h0M754.20 602.95h0M552.55 612.40h0M563.45 612.40h0M574.35 612.40h0M585.25 612.40h0M596.15 612.40h0M607.05 612.40h0M617.95 612.40h0M628.85 612.40h0M639.75 612.40h0M650.65 612.40h0M661.55 612.40h0M672.45 612.40h0M683.35 612.40h0M694.25 612.40h0M705.15 612.40h0M716.05 612.40h0M726.95 612.40h0M737.85 612.40h0M748.75 612.40h0M547.10 621.85h0M558.00 621.85h0M568.90 621.85h0M579.80 621.85h0M590.70 621.85h0M601.60 621.85h0M612.50 621.85h0M623.40 621.85h0M634.30 621.85h0M645.20 621.85h0M656.10 621.85h0M667.00 621.85h0M677.90 621.85h0M688.80 621.85h0M699.70 621.85h0M710.60 621.85h0M721.50 621.85h0M732.40 621.85h0M743.30 621.85h0M754.20 621.85h0M552.55 631.30h0M563.45 631.30h0M574.35 631.30h0M585.25 631.30h0M596.15 631.30h0M607.05 631.30h0M617.95 631.30h0M628.85 631.30h0M639.75 631.30h0M650.65 631.30h0M661.55 631.30h0M672.45 631.30h0M683.35 631.30h0M694.25 631.30h0M705.15 631.30h0M716.05 631.30h0M726.95 631.30h0M737.85 631.30h0M748.75 631.30h0M547.10 640.75h0M558.00 640.75h0M568.90 640.75h0M579.80 640.75h0M590.70 640.75h0M601.60 640.75h0M612.50 640.75h0M623.40 640.75h0M634.30 640.75h0M645.20 640.75h0M656.10 640.75h0M667.00 640.75h0M677.90 640.75h0M688.80 640.75h0M699.70 640.75h0M710.60 640.75h0M721.50 640.75h0M732.40 640.75h0M743.30 640.75h0M754.20 640.75h0M552.55 650.20h0M563.45 650.20h0M574.35 650.20h0M585.25 650.20h0M596.15 650.20h0M607.05 650.20h0M617.95 650.20h0M628.85 650.20h0M639.75 650.20h0M650.65 650.20h0M661.55 650.20h0M672.45 650.20h0M683.35 650.20h0M694.25 650.20h0M705.15 650.20h0M716.05 650.20h0M726.95 650.20h0M737.85 650.20h0M748.75 650.20h0M547.10 659.65h0M558.00 659.65h0M568.90 659.65h0M579.80 659.65h0M590.70 659.65h0M601.60 659.65h0M612.50 659.65h0M623.40 659.65h0M634.30 659.65h0M645.20 659.65h0M656.10 659.65h0M667.00 659.65h0M677.90 659.65h0M688.80 659.65h0M699.70 659.65h0M710.60 659.65h0M721.50 659.65h0M732.40 659.65h0M743.30 659.65h0M754.20 659.65h0M552.55 669.10h0M563.45 669.10h0M574.35 669.10h0M585.25 669.10h0M596.15 669.10h0M607.05 669.10h0M617.95 669.10h0M628.85 669.10h0M639.75 669.10h0M650.65 669.10h0M661.55 669.10h0M672.45 669.10h0M683.35 669.10h0M694.25 669.10h0M705.15 669.10h0M716.05 669.10h0M726.95 669.10h0M737.85 669.10h0M748.75 669.10h0M547.10 678.55h0M558.00 678.55h0M568.90 678.55h0M579.80 678.55h0M590.70 678.55h0M601.60 678.55h0M612.50 678.55h0M623.40 678.55h0M634.30 678.55h0M645.20 678.55h0M656.10 678.55h0M667.00 678.55h0M677.90 678.55h0M688.80 678.55h0M699.70 678.55h0M710.60 678.55h0M721.50 678.55h0M732.40 678.55h0M743.30 678.55h0M754.20 678.55h0" fill="none" stroke="#505050" stroke-width="1.7" stroke-linecap="round"/>
</g>
<path d="M566 552.8L569.1 561.5L571.5 581.9L577.8 591.4L587.2 597.7L591.9 608.7L596.7 630.7L602.9 652.7L607.7 663.8Q622 653.5 640.7 640.9Q654 631 665.9 619.7Q682 606 697.4 591.4L730 560.5Q734 557 734.3 553L734.3 547Q734 543 733.4 542.2L733.4 542.2C731.3 539.4 725.2 530.5 720.6 525.5C716.0 520.5 710.3 515.2 705.9 512.3C701.5 509.4 698.7 508.9 694.4 508.0C690.1 507.1 686.0 506.4 680.0 506.6C674.0 506.8 666.8 507.2 658.4 509.4C650.0 511.6 639.5 515.7 629.6 520.0C619.7 524.3 606.8 531.4 598.9 535.3C591.0 539.2 587.5 540.6 582.0 543.5C576.5 546.4 568.7 551.2 566.0 552.8Z" fill="none" stroke="#1a1a1a" stroke-width="1.1" stroke-linejoin="round"/>
<path d="M562 553.6L565.2 563" fill="none" stroke="#1a1a1a" stroke-width="1.05" stroke-linecap="round" stroke-linejoin="round" />
<path d="M560.5 562L565.2 563L566 582.5L562 581.5Z" fill="#fff" stroke="#1a1a1a" stroke-width="1.05" stroke-linejoin="round" stroke-linecap="round" />
<path d="M566 588.5L571 585L584 600L578 603Z" fill="#fff" stroke="#1a1a1a" stroke-width="1.05" stroke-linejoin="round" stroke-linecap="round" />
<path d="M581.7 605.5L586.6 605.5L591.2 632.3L587.2 634Z" fill="#fff" stroke="#1a1a1a" stroke-width="1.05" stroke-linejoin="round" stroke-linecap="round" />
<path d="M587.2 638.6L592 637L599 657.5L594.3 659Z" fill="#fff" stroke="#1a1a1a" stroke-width="1.05" stroke-linejoin="round" stroke-linecap="round" />
<path d="M640.7 642.5L641.5 656.7M647 640.2V652M727.3 563V575.6" fill="none" stroke="#1a1a1a" stroke-width="1.05" stroke-linecap="round" stroke-linejoin="round" />
<ellipse cx="596.7" cy="687.4" rx="0.9" ry="0.9" fill="#333" stroke="#1a1a1a" stroke-width="0.6"/>
<ellipse cx="709.3" cy="571.3" rx="4.9" ry="3.5" fill="#d8d8d8" stroke="#222" stroke-width="1.9"/>
<ellipse cx="709.3" cy="571.5" rx="2.3" ry="1.5" fill="#fff" stroke="#333" stroke-width="0.8"/>
<path d="M710.4 499V566" fill="none" stroke="#999" stroke-width="0.9" stroke-dasharray="2 4.5"/>
<path d="M710.4 576.5V609" fill="none" stroke="#888" stroke-width="0.9" stroke-dasharray="2 3"/>
</g>
<g id="frames">
<path d="M922.9 411.9L936.7 406.0L964.1 392.0L973.3 387.6L1000.8 377.8L1028.3 367.7L1059.5 357.8L1080.4 349.8Q1088 347.3 1094 347.6Q1101 347.8 1106.6 349.6L1120.0 354.3L1164.4 371.0L1207.2 394.0L1218.3 402.3L1237.1 419.6L1250.5 432.5Q1259.5 441 1252.8 448.2L1186.5 512.9Q1181.5 517.8 1175.5 521.2L1145.5 539.4" fill="none" stroke="#1a1a1a" stroke-width="9.35" stroke-linecap="butt" stroke-linejoin="round"/>
<path d="M922.9 411.9L936.7 406.0L964.1 392.0L973.3 387.6L1000.8 377.8L1028.3 367.7L1059.5 357.8L1080.4 349.8Q1088 347.3 1094 347.6Q1101 347.8 1106.6 349.6L1120.0 354.3L1164.4 371.0L1207.2 394.0L1218.3 402.3L1237.1 419.6L1250.5 432.5Q1259.5 441 1252.8 448.2L1186.5 512.9Q1181.5 517.8 1175.5 521.2L1145.5 539.4" fill="none" stroke="#fff" stroke-width="7.05" stroke-linecap="butt" stroke-linejoin="round"/>
<circle cx="1061.5" cy="353.0" r="0.9" fill="#222"/>
<circle cx="1164.4" cy="366.8" r="0.9" fill="#222"/>
<circle cx="1190.9" cy="381.8" r="0.9" fill="#222"/>
<circle cx="1217.4" cy="397.4" r="0.9" fill="#222"/>
<circle cx="1240" cy="457.6" r="0.9" fill="#222"/>
<circle cx="1113" cy="426" r="0.9" fill="#222"/>
<ellipse cx="923.3" cy="412.0" rx="2.4" ry="4.0" fill="#fff" stroke="#1a1a1a" stroke-width="1.1" transform="rotate(-25 923.3 412.0)"/>
<ellipse cx="1145.6" cy="539.4" rx="2.6" ry="4.1" fill="#fff" stroke="#1a1a1a" stroke-width="1.1" transform="rotate(-28 1145.6 539.4)"/>
<path d="M970.1 392.7L988.9 372.1L1001.5 359.0Q1005.5 354.5 1010.5 355Q1014.5 355.4 1019.1 358.5L1019.1 358.5C1021.5 359.9 1025.7 362.2 1033.3 366.6C1040.9 371.0 1054.2 378.7 1064.7 384.9C1075.2 391.1 1087.8 398.6 1096.1 403.8C1104.4 409.0 1109.4 412.5 1114.3 415.8C1119.2 419.1 1122.1 420.8 1125.2 423.5C1128.3 426.2 1130.5 428.4 1133.0 432.0C1135.5 435.6 1135.8 436.8 1140.0 445.0C1144.2 453.2 1152.9 470.0 1158.5 481.0C1164.1 492.0 1170.8 505.3 1173.6 511.1C1176.4 516.9 1175.2 515.2 1175.5 516.0" fill="none" stroke="#1a1a1a" stroke-width="9.35" stroke-linecap="butt" stroke-linejoin="round"/>
<path d="M970.1 392.7L988.9 372.1L1001.5 359.0Q1005.5 354.5 1010.5 355Q1014.5 355.4 1019.1 358.5L1019.1 358.5C1021.5 359.9 1025.7 362.2 1033.3 366.6C1040.9 371.0 1054.2 378.7 1064.7 384.9C1075.2 391.1 1087.8 398.6 1096.1 403.8C1104.4 409.0 1109.4 412.5 1114.3 415.8C1119.2 419.1 1122.1 420.8 1125.2 423.5C1128.3 426.2 1130.5 428.4 1133.0 432.0C1135.5 435.6 1135.8 436.8 1140.0 445.0C1144.2 453.2 1152.9 470.0 1158.5 481.0C1164.1 492.0 1170.8 505.3 1173.6 511.1C1176.4 516.9 1175.2 515.2 1175.5 516.0" fill="none" stroke="#fff" stroke-width="7.05" stroke-linecap="butt" stroke-linejoin="round"/>
<path d="M966.6 388.6Q963.3 393 966.7 395.8Q970.5 398.6 973.7 395.2" fill="#fff" stroke="#1a1a1a" stroke-width="1.1" stroke-linejoin="round" stroke-linecap="round" />
<path d="M1167.6 507.2L1175.6 503.2M1169.3 510.6L1177.3 506.6" fill="none" stroke="#1a1a1a" stroke-width="0.9" stroke-linecap="round" stroke-linejoin="round" />
<circle cx="1007.3" cy="361.3" r="1" fill="#222"/>
<path d="M959.5 400.2L966.5 395.5M961 402L967.5 397.5" fill="none" stroke="#1a1a1a" stroke-width="1.4" stroke-linecap="round" stroke-linejoin="round" />
<path d="M1064.8 432.2L1068.5 428.5L1107 405.2L1115.2 410L1073.7 434.4V461.9L1072.2 463L1064.8 458.9Z" fill="#fff" stroke="#1a1a1a" stroke-width="1.15" stroke-linejoin="round" stroke-linecap="round" />
<path d="M1064.8 432.2L1072.2 436.7L1073.7 434.4M1072.2 436.7V462.8" fill="none" stroke="#1a1a1a" stroke-width="1.0" stroke-linecap="round" stroke-linejoin="round" />
<path d="M1073.2 433.2L1114.2 409" fill="none" stroke="#1a1a1a" stroke-width="0.9" stroke-linecap="round" stroke-linejoin="round" />
<path d="M1118.9 418.9L1113.7 419.6Q1110 421 1109.3 423.3Q1107.6 426 1108.1 428.5Q1108.6 431.5 1110.7 433.7Q1112.8 436 1115.2 436.3Q1117.5 436 1118.1 434.4Q1118.8 433 1118.5 432.2L1115.9 431.5Q1113.8 430.8 1113.7 429.3Q1113.5 427.6 1114.4 427Q1116 426 1118.1 426.3Q1120.5 426.2 1121.1 424.8L1119.6 422.6L1120.4 419.6Z" fill="#fff" stroke="#1a1a1a" stroke-width="1.1" stroke-linejoin="round" stroke-linecap="round" />
<path d="M1118.1 427Q1122 428.3 1124.2 425.3" fill="none" stroke="#1a1a1a" stroke-width="0.9" stroke-linecap="round" stroke-linejoin="round" />
<path d="M1125.6 414.4L1127.8 413L1130 414.1L1130.4 416.7" fill="none" stroke="#1a1a1a" stroke-width="1.0" stroke-linecap="round" stroke-linejoin="round" />
<path d="M927.5 407.8L931.2 398.6L936.2 376.7Q937 373.6 939.6 373.3L943.1 373.0L952.3 376.8Q954.8 377.6 955.6 375.2L956.8 361.2Q957.3 357.4 960.6 357.5L960.6 357.5C961.2 357.6 960.5 356.8 964.1 357.9C967.8 358.9 974.9 360.8 982.5 363.8C990.1 366.9 1000.3 371.8 1009.9 376.2C1019.5 380.6 1030.9 385.3 1040.0 390.5C1049.1 395.7 1058.1 403.0 1064.7 407.6C1071.3 412.2 1073.5 413.6 1079.4 418.0C1085.3 422.4 1094.3 429.5 1100.0 434.0C1105.7 438.5 1111.1 443.3 1113.3 445.2Q1119.3 450 1119.3 455V466Q1119.3 469 1122 471.5L1130.5 481.5Q1134.5 485 1135.8 489L1137.5 500L1137.5 500.0C1138.4 502.0 1141.4 508.0 1142.8 512.2C1144.2 516.4 1145.2 521.6 1146.0 525.0C1146.8 528.4 1147.2 531.2 1147.5 532.5" fill="none" stroke="#1a1a1a" stroke-width="4.95" stroke-linecap="butt" stroke-linejoin="round"/>
<path d="M927.5 407.8L931.2 398.6L936.2 376.7Q937 373.6 939.6 373.3L943.1 373.0L952.3 376.8Q954.8 377.6 955.6 375.2L956.8 361.2Q957.3 357.4 960.6 357.5L960.6 357.5C961.2 357.6 960.5 356.8 964.1 357.9C967.8 358.9 974.9 360.8 982.5 363.8C990.1 366.9 1000.3 371.8 1009.9 376.2C1019.5 380.6 1030.9 385.3 1040.0 390.5C1049.1 395.7 1058.1 403.0 1064.7 407.6C1071.3 412.2 1073.5 413.6 1079.4 418.0C1085.3 422.4 1094.3 429.5 1100.0 434.0C1105.7 438.5 1111.1 443.3 1113.3 445.2Q1119.3 450 1119.3 455V466Q1119.3 469 1122 471.5L1130.5 481.5Q1134.5 485 1135.8 489L1137.5 500L1137.5 500.0C1138.4 502.0 1141.4 508.0 1142.8 512.2C1144.2 516.4 1145.2 521.6 1146.0 525.0C1146.8 528.4 1147.2 531.2 1147.5 532.5" fill="none" stroke="#fff" stroke-width="2.85" stroke-linecap="butt" stroke-linejoin="round"/>
<ellipse cx="1145.6" cy="539.4" rx="2.6" ry="4.1" fill="#fff" stroke="#1a1a1a" stroke-width="1.1" transform="rotate(-28 1145.6 539.4)"/>
<path d="M914.2 418.1L921 411.3L924.5 415.5L954.2 401.5V422.8Q962 426 964.9 431.7Q965 435 962.7 436.8L946.6 444.4Q942 446.8 938.1 446.6Q934 446.4 931.3 444.4L923.2 436.4L921.9 437.6V450.8L916.4 454.2L914.2 452.1Z" fill="#fff" stroke="#1a1a1a" stroke-width="1.2" stroke-linejoin="round" stroke-linecap="round" />
<path d="M914.2 418.1V452.1L916.4 454.2" fill="none" stroke="#1a1a1a" stroke-width="1.4" stroke-linecap="round" stroke-linejoin="round" />
<path d="M923.2 436.4L954.2 422.8M924.4 437.8L954.2 424.3" fill="none" stroke="#1a1a1a" stroke-width="0.9" stroke-linecap="round" stroke-linejoin="round" />
<ellipse cx="953.8" cy="432.5" rx="4.3" ry="2.6" fill="#fff" stroke="#1a1a1a" stroke-width="1.0" transform="rotate(-8 953.8 432.5)"/>
<circle cx="918.1" cy="426.2" r="1.0" fill="#222"/><circle cx="918.1" cy="448.3" r="1.0" fill="#222"/>
<path d="M942.3 408.3Q943.5 402.5 949 399Q953.5 396.8 960.2 400.2Q964.6 402.5 964.6 405.5Q964.6 408 961.5 409.8L955.1 413Q950.5 413.6 946.5 411.6Z" fill="#fff" stroke="#1a1a1a" stroke-width="1.2" stroke-linejoin="round" stroke-linecap="round" />
<path d="M944 403.5Q948.5 399.5 952.5 399.2Q956 399.3 955.5 402.3" fill="none" stroke="#1a1a1a" stroke-width="0.9" stroke-linecap="round" stroke-linejoin="round" />
<ellipse cx="953.9" cy="406.4" rx="4.4" ry="2.7" fill="#fff" stroke="#1a1a1a" stroke-width="1.1"/>
<path d="M953.9 403.8V409" fill="none" stroke="#1a1a1a" stroke-width="0.8" stroke-linecap="round" stroke-linejoin="round" />
<path d="M1144.4 550.4L1150.4 543.7L1177 523.7Q1179 525 1178.5 528Q1178 537 1175.5 542Q1171 553 1166 560Q1160 570 1156.5 572.5Q1153 574.5 1154.5 577.5L1157 583Q1158 586.5 1155.5 587.5L1147.4 586.7L1143.7 584.4V551.1Z" fill="#fff" stroke="#1a1a1a" stroke-width="1.1" stroke-linejoin="round" stroke-linecap="round" />
<path d="M1150.4 543.7L1144 550.8V584.4L1147 586.7" fill="none" stroke="#1a1a1a" stroke-width="2.0" stroke-linecap="round" stroke-linejoin="round" />
<path d="M1150.4 543.7L1177 523.7" fill="none" stroke="#1a1a1a" stroke-width="1.6" stroke-linecap="round" stroke-linejoin="round" />
<g transform="translate(879.2 410.6) rotate(20)">
<rect x="6.6" y="-2.4" width="8.5" height="4.8" fill="#3a3a3a" stroke="#1a1a1a" stroke-width="0.6"/>
<line x1="7.5" y1="-2.4" x2="7.5" y2="2.4" stroke="#aaa" stroke-width="0.55"/>
<line x1="9.2" y1="-2.4" x2="9.2" y2="2.4" stroke="#aaa" stroke-width="0.55"/>
<line x1="10.9" y1="-2.4" x2="10.9" y2="2.4" stroke="#aaa" stroke-width="0.55"/>
<line x1="12.6" y1="-2.4" x2="12.6" y2="2.4" stroke="#aaa" stroke-width="0.55"/>
<line x1="14.3" y1="-2.4" x2="14.3" y2="2.4" stroke="#aaa" stroke-width="0.55"/>
<path d="M0 -5.3H6.6A2.38 5.3 0 0 1 6.6 5.3H0Z" fill="#fff" stroke="#1a1a1a" stroke-width="1.3"/>
<line x1="0" y1="-2.38" x2="6.6" y2="-2.38" stroke="#1a1a1a" stroke-width="0.6"/>
<line x1="0" y1="2.38" x2="6.6" y2="2.38" stroke="#1a1a1a" stroke-width="0.6"/>
<ellipse cx="0" cy="0" rx="2.65" ry="5.3" fill="#fff" stroke="#1a1a1a" stroke-width="1.3"/>
</g>
<g transform="translate(879.6 430.8) rotate(20)">
<rect x="6.6" y="-2.4" width="8.5" height="4.8" fill="#3a3a3a" stroke="#1a1a1a" stroke-width="0.6"/>
<line x1="7.5" y1="-2.4" x2="7.5" y2="2.4" stroke="#aaa" stroke-width="0.55"/>
<line x1="9.2" y1="-2.4" x2="9.2" y2="2.4" stroke="#aaa" stroke-width="0.55"/>
<line x1="10.9" y1="-2.4" x2="10.9" y2="2.4" stroke="#aaa" stroke-width="0.55"/>
<line x1="12.6" y1="-2.4" x2="12.6" y2="2.4" stroke="#aaa" stroke-width="0.55"/>
<line x1="14.3" y1="-2.4" x2="14.3" y2="2.4" stroke="#aaa" stroke-width="0.55"/>
<path d="M0 -5.3H6.6A2.38 5.3 0 0 1 6.6 5.3H0Z" fill="#fff" stroke="#1a1a1a" stroke-width="1.3"/>
<line x1="0" y1="-2.38" x2="6.6" y2="-2.38" stroke="#1a1a1a" stroke-width="0.6"/>
<line x1="0" y1="2.38" x2="6.6" y2="2.38" stroke="#1a1a1a" stroke-width="0.6"/>
<ellipse cx="0" cy="0" rx="2.65" ry="5.3" fill="#fff" stroke="#1a1a1a" stroke-width="1.3"/>
</g>
<g transform="translate(905.0 421.6) rotate(20)">
<ellipse cx="-1.9" cy="0" rx="4.9" ry="6.8" fill="#fff" stroke="#1a1a1a" stroke-width="1.15"/>
<ellipse cx="0" cy="0" rx="4.9" ry="6.8" fill="#fff" stroke="#1a1a1a" stroke-width="1.15"/>
<ellipse cx="0" cy="0" rx="1.37" ry="1.90" fill="#fff" stroke="#1a1a1a" stroke-width="0.9"/>
</g>
<g transform="translate(905.4 442.1) rotate(20)">
<ellipse cx="-1.9" cy="0" rx="4.9" ry="6.8" fill="#fff" stroke="#1a1a1a" stroke-width="1.15"/>
<ellipse cx="0" cy="0" rx="4.9" ry="6.8" fill="#fff" stroke="#1a1a1a" stroke-width="1.15"/>
<ellipse cx="0" cy="0" rx="1.37" ry="1.90" fill="#fff" stroke="#1a1a1a" stroke-width="0.9"/>
</g>
<path d="M918.5 426.6L965.3 444.4M923.2 448.7L965.3 464.9M896.5 437.5L899.5 438.8" fill="none" stroke="#b0b0b0" stroke-width="0.9" stroke-dasharray="2 3.5"/>
<g transform="translate(970.6 445.8) rotate(18)">
<ellipse cx="-1.3" cy="0" rx="3.8" ry="5.2" fill="#fff" stroke="#222" stroke-width="0.9"/>
<ellipse cx="0" cy="0" rx="3.8" ry="5.2" fill="#fff" stroke="#222" stroke-width="0.9"/>
<ellipse cx="0" cy="0" rx="2.36" ry="3.22" fill="none" stroke="#222" stroke-width="0.8"/>
<ellipse cx="0" cy="0" rx="1.14" ry="1.56" fill="#fff" stroke="#222" stroke-width="0.9"/>
</g>
<g transform="translate(970.9 466.2) rotate(18)">
<ellipse cx="-1.3" cy="0" rx="3.8" ry="5.2" fill="#fff" stroke="#222" stroke-width="0.9"/>
<ellipse cx="0" cy="0" rx="3.8" ry="5.2" fill="#fff" stroke="#222" stroke-width="0.9"/>
<ellipse cx="0" cy="0" rx="2.36" ry="3.22" fill="none" stroke="#222" stroke-width="0.8"/>
<ellipse cx="0" cy="0" rx="1.14" ry="1.56" fill="#fff" stroke="#222" stroke-width="0.9"/>
</g>
<g transform="translate(980.4 449.2) rotate(18)">
<path d="M3.3 0.0L1.6 3.6L-1.6 3.6L-3.3 0.0L-1.6 -3.6L1.6 -3.6Z" transform="translate(-1.6 0)" fill="#999" stroke="#333" stroke-width="1"/>
<path d="M3.3 0.0L1.6 3.6L-1.6 3.6L-3.3 0.0L-1.6 -3.6L1.6 -3.6Z" fill="#ddd" stroke="#333" stroke-width="1"/>
<ellipse cx="0" cy="0" rx="1.56" ry="2.05" fill="#555" stroke="#333" stroke-width="0.8"/>
</g>
<g transform="translate(980.4 469.6) rotate(18)">
<path d="M3.3 0.0L1.6 3.6L-1.6 3.6L-3.3 0.0L-1.6 -3.6L1.6 -3.6Z" transform="translate(-1.6 0)" fill="#999" stroke="#333" stroke-width="1"/>
<path d="M3.3 0.0L1.6 3.6L-1.6 3.6L-3.3 0.0L-1.6 -3.6L1.6 -3.6Z" fill="#ddd" stroke="#333" stroke-width="1"/>
<ellipse cx="0" cy="0" rx="1.56" ry="2.05" fill="#555" stroke="#333" stroke-width="0.8"/>
</g>
<path d="M1050.6 326.3L1068.4 309.2" fill="none" stroke="#1a1a1a" stroke-width="4.40" stroke-linecap="round" stroke-linejoin="round"/>
<path d="M1050.6 326.3L1068.4 309.2" fill="none" stroke="#fff" stroke-width="2.40" stroke-linecap="round" stroke-linejoin="round"/>
<ellipse cx="1050.6" cy="326.3" rx="1.2" ry="1.8" fill="#fff" stroke="#1a1a1a" stroke-width="0.9" transform="rotate(45 1050.6 326.3)"/>
<path d="M1048 328.9L1021.8 354.6" fill="none" stroke="#b0b0b0" stroke-width="0.9" stroke-dasharray="2 3.5"/>
<g transform="translate(1120.7 546) rotate(20)">
<path d="M3.1 0.0L1.6 3.4L-1.6 3.4L-3.1 0.0L-1.6 -3.4L1.6 -3.4Z" transform="translate(-1.6 0)" fill="#999" stroke="#333" stroke-width="1"/>
<path d="M3.1 0.0L1.6 3.4L-1.6 3.4L-3.1 0.0L-1.6 -3.4L1.6 -3.4Z" fill="#ddd" stroke="#333" stroke-width="1"/>
<ellipse cx="0" cy="0" rx="1.48" ry="1.95" fill="#555" stroke="#333" stroke-width="0.8"/>
</g>
<g transform="translate(1120.7 570.6) rotate(20)">
<path d="M3.1 0.0L1.6 3.4L-1.6 3.4L-3.1 0.0L-1.6 -3.4L1.6 -3.4Z" transform="translate(-1.6 0)" fill="#999" stroke="#333" stroke-width="1"/>
<path d="M3.1 0.0L1.6 3.4L-1.6 3.4L-3.1 0.0L-1.6 -3.4L1.6 -3.4Z" fill="#ddd" stroke="#333" stroke-width="1"/>
<ellipse cx="0" cy="0" rx="1.48" ry="1.95" fill="#555" stroke="#333" stroke-width="0.8"/>
</g>
<g transform="translate(1131.2 550.4) rotate(22)">
<ellipse cx="-1.2" cy="0" rx="3.7" ry="5.0" fill="#fff" stroke="#222" stroke-width="0.9"/>
<ellipse cx="0" cy="0" rx="3.7" ry="5.0" fill="#fff" stroke="#222" stroke-width="0.9"/>
<ellipse cx="0" cy="0" rx="2.29" ry="3.10" fill="none" stroke="#222" stroke-width="0.8"/>
<ellipse cx="0" cy="0" rx="1.11" ry="1.50" fill="#fff" stroke="#222" stroke-width="0.9"/>
</g>
<g transform="translate(1131.2 572.8) rotate(22)">
<ellipse cx="-1.2" cy="0" rx="3.7" ry="5.0" fill="#fff" stroke="#222" stroke-width="0.9"/>
<ellipse cx="0" cy="0" rx="3.7" ry="5.0" fill="#fff" stroke="#222" stroke-width="0.9"/>
<ellipse cx="0" cy="0" rx="2.29" ry="3.10" fill="none" stroke="#222" stroke-width="0.8"/>
<ellipse cx="0" cy="0" rx="1.11" ry="1.50" fill="#fff" stroke="#222" stroke-width="0.9"/>
</g>
<path d="M1136 553L1141 555.5M1136 576L1141 578.5" fill="none" stroke="#c0c0c0" stroke-width="0.9" stroke-dasharray="1.5 3"/>
<g transform="translate(1154.3 557.8) rotate(22)">
<ellipse cx="-1.8" cy="0" rx="4.5" ry="6.6" fill="#fff" stroke="#222" stroke-width="0.9"/>
<ellipse cx="0" cy="0" rx="4.5" ry="6.6" fill="#fff" stroke="#222" stroke-width="0.9"/>
<ellipse cx="0" cy="0" rx="1.35" ry="1.98" fill="#fff" stroke="#222" stroke-width="0.9"/>
</g>
<g transform="translate(1153.6 583.0) rotate(22)">
<ellipse cx="-1.8" cy="0" rx="4.5" ry="6.6" fill="#fff" stroke="#222" stroke-width="0.9"/>
<ellipse cx="0" cy="0" rx="4.5" ry="6.6" fill="#fff" stroke="#222" stroke-width="0.9"/>
<ellipse cx="0" cy="0" rx="1.35" ry="1.98" fill="#fff" stroke="#222" stroke-width="0.9"/>
</g>
<circle cx="1147.5" cy="558" r="0.9" fill="#222"/><circle cx="1147.5" cy="583" r="0.9" fill="#222"/>
<g transform="translate(1180.6 567.8) rotate(200)">
<rect x="6.0" y="-2.4" width="9.5" height="4.8" fill="#3a3a3a" stroke="#1a1a1a" stroke-width="0.6"/>
<line x1="6.9" y1="-2.4" x2="6.9" y2="2.4" stroke="#aaa" stroke-width="0.55"/>
<line x1="8.6" y1="-2.4" x2="8.6" y2="2.4" stroke="#aaa" stroke-width="0.55"/>
<line x1="10.3" y1="-2.4" x2="10.3" y2="2.4" stroke="#aaa" stroke-width="0.55"/>
<line x1="12.0" y1="-2.4" x2="12.0" y2="2.4" stroke="#aaa" stroke-width="0.55"/>
<line x1="13.7" y1="-2.4" x2="13.7" y2="2.4" stroke="#aaa" stroke-width="0.55"/>
<path d="M0 -4.9H6.0A2.21 4.9 0 0 1 6.0 4.9H0Z" fill="#fff" stroke="#1a1a1a" stroke-width="1.2"/>
<line x1="0" y1="-2.21" x2="6.0" y2="-2.21" stroke="#1a1a1a" stroke-width="0.6"/>
<line x1="0" y1="2.21" x2="6.0" y2="2.21" stroke="#1a1a1a" stroke-width="0.6"/>
<ellipse cx="0" cy="0" rx="2.45" ry="4.9" fill="#fff" stroke="#1a1a1a" stroke-width="1.2"/>
</g>
<g transform="translate(1180.6 591.4) rotate(200)">
<rect x="6.0" y="-2.4" width="9.5" height="4.8" fill="#3a3a3a" stroke="#1a1a1a" stroke-width="0.6"/>
<line x1="6.9" y1="-2.4" x2="6.9" y2="2.4" stroke="#aaa" stroke-width="0.55"/>
<line x1="8.6" y1="-2.4" x2="8.6" y2="2.4" stroke="#aaa" stroke-width="0.55"/>
<line x1="10.3" y1="-2.4" x2="10.3" y2="2.4" stroke="#aaa" stroke-width="0.55"/>
<line x1="12.0" y1="-2.4" x2="12.0" y2="2.4" stroke="#aaa" stroke-width="0.55"/>
<line x1="13.7" y1="-2.4" x2="13.7" y2="2.4" stroke="#aaa" stroke-width="0.55"/>
<path d="M0 -4.9H6.0A2.21 4.9 0 0 1 6.0 4.9H0Z" fill="#fff" stroke="#1a1a1a" stroke-width="1.2"/>
<line x1="0" y1="-2.21" x2="6.0" y2="-2.21" stroke="#1a1a1a" stroke-width="0.6"/>
<line x1="0" y1="2.21" x2="6.0" y2="2.21" stroke="#1a1a1a" stroke-width="0.6"/>
<ellipse cx="0" cy="0" rx="2.45" ry="4.9" fill="#fff" stroke="#1a1a1a" stroke-width="1.2"/>
</g>
<path d="M942 676L912 706" fill="none" stroke="#b8b8b8" stroke-width="0.9" stroke-dasharray="2 3.5"/>
<path d="M909 709L896 723M890 731L886.5 736" fill="none" stroke="#c4c4c4" stroke-width="0.9" stroke-dasharray="2 3.5"/>
<path d="M1172 787L1167.5 792M1160 801L1143.5 823" fill="none" stroke="#c0c0c0" stroke-width="0.9" stroke-dasharray="2 3.5"/>
<path d="M1136.3 831.9L1115.6 849.6M1109.6 857L1105.2 861.5" fill="none" stroke="#c0c0c0" stroke-width="0.9" stroke-dasharray="2 3.5"/>
<path d="M918.6 581.8C919.2 590.3 921.1 616.1 922.5 633.0C923.9 649.9 926.1 674.8 926.8 683.2Q927.5 690.5 933.4 692.8Q939 694.5 945.2 691.5L945.2 691.5C950.8 688.7 964.2 680.6 978.5 674.7C992.8 668.8 1015.6 661.5 1030.9 656.0C1046.2 650.5 1063.7 644.0 1070.2 641.6Q1079 638.6 1087.9 638.8Q1093 639 1098.3 640.7L1098.3 640.7L1158.5 661.6L1213.5 691.3L1248.2 726.0Q1255.5 733.5 1250.2 740.4L1250.2 740.4L1240.0 750.7L1193.0 797.5Q1180 809.5 1164.4 816.7Q1155.5 820.5 1150.5 816.5Q1146.5 813 1145.5 804.4L1145.5 804.4C1144.8 793.7 1142.1 755.9 1141.0 740.0C1139.9 724.1 1139.2 714.2 1138.9 709.0" fill="none" stroke="#1a1a1a" stroke-width="9.00" stroke-linecap="butt" stroke-linejoin="round"/>
<path d="M918.6 581.8C919.2 590.3 921.1 616.1 922.5 633.0C923.9 649.9 926.1 674.8 926.8 683.2Q927.5 690.5 933.4 692.8Q939 694.5 945.2 691.5L945.2 691.5C950.8 688.7 964.2 680.6 978.5 674.7C992.8 668.8 1015.6 661.5 1030.9 656.0C1046.2 650.5 1063.7 644.0 1070.2 641.6Q1079 638.6 1087.9 638.8Q1093 639 1098.3 640.7L1098.3 640.7L1158.5 661.6L1213.5 691.3L1248.2 726.0Q1255.5 733.5 1250.2 740.4L1250.2 740.4L1240.0 750.7L1193.0 797.5Q1180 809.5 1164.4 816.7Q1155.5 820.5 1150.5 816.5Q1146.5 813 1145.5 804.4L1145.5 804.4C1144.8 793.7 1142.1 755.9 1141.0 740.0C1139.9 724.1 1139.2 714.2 1138.9 709.0" fill="none" stroke="#fff" stroke-width="6.80" stroke-linecap="butt" stroke-linejoin="round"/>
<ellipse cx="918.6" cy="581.2" rx="3.9" ry="2.2" fill="#fff" stroke="#1a1a1a" stroke-width="1.1"/>
<ellipse cx="1138.8" cy="708.5" rx="3.9" ry="2.3" fill="#fff" stroke="#1a1a1a" stroke-width="1.1"/>
<circle cx="921.8" cy="590.5" r="0.9" fill="#222"/>
<circle cx="923.8" cy="611.8" r="0.9" fill="#222"/>
<circle cx="1142" cy="717" r="0.9" fill="#222"/>
<circle cx="1144.3" cy="738.5" r="0.9" fill="#222"/>
<circle cx="1184" cy="677.8" r="0.9" fill="#222"/>
<circle cx="1194.5" cy="677.5" r="0.9" fill="#222"/>
<path d="M913.6 696L1139.6 828.4" fill="none" stroke="#1a1a1a" stroke-width="8.50" stroke-linecap="butt" stroke-linejoin="round"/>
<path d="M913.6 696L1139.6 828.4" fill="none" stroke="#fff" stroke-width="6.30" stroke-linecap="butt" stroke-linejoin="round"/>
<path d="M916.8 692.4Q911.5 691.5 910.3 695.6Q909.8 699 912.6 701.5" fill="#fff" stroke="#1a1a1a" stroke-width="1.1"/>
<ellipse cx="1139.9" cy="828.5" rx="2.6" ry="3.9" fill="#fff" stroke="#1a1a1a" stroke-width="1.1" transform="rotate(30 1139.9 828.5)"/>
<path d="M1050.1 763.7L1154 685.4" fill="none" stroke="#1a1a1a" stroke-width="5.95" stroke-linecap="butt" stroke-linejoin="round"/>
<path d="M1050.1 763.7L1154 685.4" fill="none" stroke="#fff" stroke-width="3.85" stroke-linecap="butt" stroke-linejoin="round"/>
<ellipse cx="1050.3" cy="763.6" rx="1.7" ry="2.7" fill="#fff" stroke="#1a1a1a" stroke-width="1.0" transform="rotate(-37 1050.3 763.6)"/>
<ellipse cx="1154" cy="685.4" rx="1.7" ry="2.7" fill="#fff" stroke="#1a1a1a" stroke-width="1.0" transform="rotate(-37 1154 685.4)"/>
<path d="M952.4 657.0L955.0 659.5L960.2 659.5L962.8 657.0L962.8 661.0L960.2 663.5L955.0 663.5L952.4 661.0Z" fill="#fff" stroke="#222" stroke-width="0.9" stroke-linejoin="round"/>
<line x1="955.0" y1="659.5" x2="955.0" y2="663.5" stroke="#222" stroke-width="0.8"/>
<line x1="960.2" y1="659.5" x2="960.2" y2="663.5" stroke="#222" stroke-width="0.8"/>
<path d="M962.8 657.0L960.2 659.5L955.0 659.5L952.4 657.0L955.0 654.5L960.2 654.5Z" fill="#fff" stroke="#222" stroke-width="0.9" stroke-linejoin="round"/>
<ellipse cx="957.6" cy="657.0" rx="2.60" ry="1.46" fill="#888" stroke="#222" stroke-width="0.9"/>
<g transform="translate(945.2 672.2) rotate(-35)">
<ellipse cx="-1.3" cy="0" rx="4.4" ry="5.7" fill="#fff" stroke="#222" stroke-width="0.9"/>
<ellipse cx="0" cy="0" rx="4.4" ry="5.7" fill="#fff" stroke="#222" stroke-width="0.9"/>
<ellipse cx="0" cy="0" rx="2.73" ry="3.53" fill="none" stroke="#222" stroke-width="0.8"/>
<ellipse cx="0" cy="0" rx="1.32" ry="1.71" fill="#fff" stroke="#222" stroke-width="0.9"/>
</g>
<g transform="translate(892.9 727.1) rotate(-35)">
<ellipse cx="-1.3" cy="0" rx="4.0" ry="4.8" fill="#fff" stroke="#222" stroke-width="0.9"/>
<ellipse cx="0" cy="0" rx="4.0" ry="4.8" fill="#fff" stroke="#222" stroke-width="0.9"/>
<ellipse cx="0" cy="0" rx="2.48" ry="2.98" fill="none" stroke="#222" stroke-width="0.8"/>
<ellipse cx="0" cy="0" rx="1.20" ry="1.44" fill="#fff" stroke="#222" stroke-width="0.9"/>
</g>
<g transform="translate(865.4 754.3) rotate(-39.5)">
<rect x="5.5" y="-2.0" width="18.5" height="4.0" fill="#bdbdbd" stroke="#333" stroke-width="0.6"/>
<line x1="6.4" y1="-2.0" x2="6.4" y2="2.0" stroke="#333" stroke-width="0.55"/>
<line x1="8.1" y1="-2.0" x2="8.1" y2="2.0" stroke="#333" stroke-width="0.55"/>
<line x1="9.8" y1="-2.0" x2="9.8" y2="2.0" stroke="#333" stroke-width="0.55"/>
<line x1="11.5" y1="-2.0" x2="11.5" y2="2.0" stroke="#333" stroke-width="0.55"/>
<line x1="13.2" y1="-2.0" x2="13.2" y2="2.0" stroke="#333" stroke-width="0.55"/>
<line x1="14.9" y1="-2.0" x2="14.9" y2="2.0" stroke="#333" stroke-width="0.55"/>
<line x1="16.6" y1="-2.0" x2="16.6" y2="2.0" stroke="#333" stroke-width="0.55"/>
<line x1="18.3" y1="-2.0" x2="18.3" y2="2.0" stroke="#333" stroke-width="0.55"/>
<line x1="20.0" y1="-2.0" x2="20.0" y2="2.0" stroke="#333" stroke-width="0.55"/>
<line x1="21.7" y1="-2.0" x2="21.7" y2="2.0" stroke="#333" stroke-width="0.55"/>
<path d="M0 -4.9H5.5A2.21 4.9 0 0 1 5.5 4.9H0Z" fill="#fff" stroke="#333" stroke-width="0.9"/>
<line x1="0" y1="-2.21" x2="5.5" y2="-2.21" stroke="#333" stroke-width="0.6"/>
<line x1="0" y1="2.21" x2="5.5" y2="2.21" stroke="#333" stroke-width="0.6"/>
<ellipse cx="0" cy="0" rx="2.45" ry="4.9" fill="#fff" stroke="#333" stroke-width="0.9"/>
</g>
<path d="M1171.1 782.4L1173.7 784.9L1178.9 784.9L1181.5 782.4L1181.5 786.4L1178.9 788.9L1173.7 788.9L1171.1 786.4Z" fill="#fff" stroke="#222" stroke-width="0.9" stroke-linejoin="round"/>
<line x1="1173.7" y1="784.9" x2="1173.7" y2="788.9" stroke="#222" stroke-width="0.8"/>
<line x1="1178.9" y1="784.9" x2="1178.9" y2="788.9" stroke="#222" stroke-width="0.8"/>
<path d="M1181.5 782.4L1178.9 784.9L1173.7 784.9L1171.1 782.4L1173.7 779.9L1178.9 779.9Z" fill="#fff" stroke="#222" stroke-width="0.9" stroke-linejoin="round"/>
<ellipse cx="1176.3" cy="782.4" rx="2.60" ry="1.46" fill="#888" stroke="#222" stroke-width="0.9"/>
<g transform="translate(1164.2 797.0) rotate(-40)">
<ellipse cx="-1.3" cy="0" rx="4.6" ry="5.0" fill="#fff" stroke="#222" stroke-width="0.9"/>
<ellipse cx="0" cy="0" rx="4.6" ry="5.0" fill="#fff" stroke="#222" stroke-width="0.9"/>
<ellipse cx="0" cy="0" rx="2.85" ry="3.10" fill="none" stroke="#222" stroke-width="0.8"/>
<ellipse cx="0" cy="0" rx="1.38" ry="1.50" fill="#fff" stroke="#222" stroke-width="0.9"/>
</g>
<g transform="translate(1111.9 853.3) rotate(-40)">
<ellipse cx="-1.3" cy="0" rx="4.5" ry="5.2" fill="#fff" stroke="#222" stroke-width="0.9"/>
<ellipse cx="0" cy="0" rx="4.5" ry="5.2" fill="#fff" stroke="#222" stroke-width="0.9"/>
<ellipse cx="0" cy="0" rx="2.79" ry="3.22" fill="none" stroke="#222" stroke-width="0.8"/>
<ellipse cx="0" cy="0" rx="1.35" ry="1.56" fill="#fff" stroke="#222" stroke-width="0.9"/>
</g>
<g transform="translate(1084.8 881.2) rotate(-41)">
<rect x="5.6" y="-1.9" width="18.5" height="3.8" fill="#bdbdbd" stroke="#333" stroke-width="0.6"/>
<line x1="6.5" y1="-1.9" x2="6.5" y2="1.9" stroke="#333" stroke-width="0.55"/>
<line x1="8.2" y1="-1.9" x2="8.2" y2="1.9" stroke="#333" stroke-width="0.55"/>
<line x1="9.9" y1="-1.9" x2="9.9" y2="1.9" stroke="#333" stroke-width="0.55"/>
<line x1="11.6" y1="-1.9" x2="11.6" y2="1.9" stroke="#333" stroke-width="0.55"/>
<line x1="13.3" y1="-1.9" x2="13.3" y2="1.9" stroke="#333" stroke-width="0.55"/>
<line x1="15.0" y1="-1.9" x2="15.0" y2="1.9" stroke="#333" stroke-width="0.55"/>
<line x1="16.7" y1="-1.9" x2="16.7" y2="1.9" stroke="#333" stroke-width="0.55"/>
<line x1="18.4" y1="-1.9" x2="18.4" y2="1.9" stroke="#333" stroke-width="0.55"/>
<line x1="20.1" y1="-1.9" x2="20.1" y2="1.9" stroke="#333" stroke-width="0.55"/>
<line x1="21.8" y1="-1.9" x2="21.8" y2="1.9" stroke="#333" stroke-width="0.55"/>
<path d="M0 -5.0H5.6A2.25 5.0 0 0 1 5.6 5.0H0Z" fill="#fff" stroke="#333" stroke-width="0.9"/>
<line x1="0" y1="-2.25" x2="5.6" y2="-2.25" stroke="#333" stroke-width="0.6"/>
<line x1="0" y1="2.25" x2="5.6" y2="2.25" stroke="#333" stroke-width="0.6"/>
<ellipse cx="0" cy="0" rx="2.50" ry="5.0" fill="#fff" stroke="#333" stroke-width="0.9"/>
</g>
</g>
<g id="tray">
<path d="M195.3 694.6L330.8 688.1L368.1 690.1L420.0 695.0L470.7 700.9L502.1 707.7L550.0 733.0L594.4 760.8L610.1 773.5L645.0 810.0L674.9 845.2L676.9 858.9L660.0 910.0L641.5 965.0L629.7 977.7L592.0 970.0L541.4 946.3L400.0 850.0L227.6 777.0Z" fill="#e3e3e3" stroke="#333" stroke-width="0.8" stroke-linejoin="round" stroke-linecap="round" />
<path d="M341.5 698Q352 712 355.5 727M373 697Q375 709 374 720" fill="none" stroke="#222" stroke-width="1.1" stroke-linecap="round" stroke-linejoin="round" />
<path d="M471.5 704L470.5 711Q462 719 460.5 731M487 713Q494 722 492 727L489.5 731Q484 736 482.5 743" fill="none" stroke="#222" stroke-width="1.1" stroke-linecap="round" stroke-linejoin="round" />
<path d="M578 791.5Q587 790.5 590 784Q592 779.5 596 778.5L607.5 776" fill="none" stroke="#222" stroke-width="1.1" stroke-linecap="round" stroke-linejoin="round" />
<path d="M631.5 848.5L665.5 850" fill="none" stroke="#222" stroke-width="1.0" stroke-linecap="round" stroke-linejoin="round" stroke-dasharray="9 3"/>
<path d="M177.1 696.6L189.4 689.4L195.3 695.3L207.6 727L201.8 728.3L192.7 711.5L184.3 715.4Z" fill="#989898" stroke="#3a3a3a" stroke-width="1.0" stroke-linejoin="round" stroke-linecap="round" />
<ellipse cx="188.5" cy="703.1" rx="1.7" ry="1.9" fill="#fff" stroke="#3a3a3a" stroke-width="0.8"/>
<path d="M204 728.6L207.9 727L227 777.6L225.8 781.5L222 783Z" fill="#989898" stroke="#3a3a3a" stroke-width="1.0" stroke-linejoin="round" stroke-linecap="round" />
<path d="M195.9 736.1Q195 731 200.1 730.9Q204.5 731 204.6 735.5L225.1 784.1Q225.5 789 220.6 789.3Q218 789.3 217.3 786.7Z" fill="#989898" stroke="#3a3a3a" stroke-width="1.0" stroke-linejoin="round" stroke-linecap="round" />
<ellipse cx="200.2" cy="734.8" rx="3.8" ry="3.8" fill="#989898" stroke="#3a3a3a" stroke-width="1.0"/>
<path d="M197.9 686.4Q198.5 683.6 201.2 683L311.3 678.5L330.5 677.8L331 682.5L330.5 693L205.7 697.9Q199.5 692 197.9 686.4Z" fill="#989898" stroke="#3a3a3a" stroke-width="1.0" stroke-linejoin="round" stroke-linecap="round" />
<path d="M207.6 686.9L310 682.9M207.6 689.2L310 685.3M199.5 689.5L330.5 684.5" fill="none" stroke="#3a3a3a" stroke-width="0.8" stroke-linecap="round" stroke-linejoin="round" />
<path d="M311.3 678.5L330 677.6L330.5 682.5L316.5 683.4L316.3 686.5L311.8 686.7Z" fill="#989898" stroke="#3a3a3a" stroke-width="0.9" stroke-linejoin="round" stroke-linecap="round" />
<rect x="316.8" y="681.8" width="2.2" height="2" fill="#ddd"/>
<path d="M323.5 684.3L331.5 683.9L331.5 686.6L323.5 687Z" fill="#fff"/>
<path d="M330.8 688.1L368.1 690.1" fill="none" stroke="#333" stroke-width="0.8" stroke-linecap="round" stroke-linejoin="round" />
<path d="M366.2 683.2Q366.5 679 370.5 679.2L471.5 691.5Q474 692 473.5 694L469.5 697L470.7 700.9L469.3 705.8L372 693.5L369.5 688.5Q366.3 687 366.2 683.2Z" fill="#989898" stroke="#3a3a3a" stroke-width="1.0" stroke-linejoin="round" stroke-linecap="round" />
<path d="M371.5 684.8L468 696.6" fill="none" stroke="#3a3a3a" stroke-width="0.8" stroke-linecap="round" stroke-linejoin="round" />
<path d="M374 688.3L466 699.5" fill="none" stroke="#3a3a3a" stroke-width="0.8" stroke-linecap="round" stroke-linejoin="round" stroke-dasharray="6 2.5"/>
<ellipse cx="369.6" cy="683" rx="3.2" ry="3.4" fill="#989898" stroke="#3a3a3a" stroke-width="1.0"/>
<path d="M498.5 712.2L503.5 708.5L505.2 703.5Q507 702 509.5 703L549.6 724.6Q552.5 727 551 730L548.5 734.5L541 737Z" fill="#989898" stroke="#3a3a3a" stroke-width="1.0" stroke-linejoin="round" stroke-linecap="round" />
<path d="M506 707.5L548 730.5M503.5 710L543 733" fill="none" stroke="#3a3a3a" stroke-width="0.8" stroke-linecap="round" stroke-linejoin="round" />
<ellipse cx="548.2" cy="730.2" rx="3.6" ry="3.6" fill="#989898" stroke="#3a3a3a" stroke-width="1.0"/>
<path d="M541 737L549 732.5L556 729.5L598.5 752.5Q602 755 600.8 758.5Q599.5 761.5 596 761.8L589.5 760L586.5 763.5Z" fill="#989898" stroke="#3a3a3a" stroke-width="1.0" stroke-linejoin="round" stroke-linecap="round" />
<path d="M553 733.5L594 756.5M547.5 737L590 760" fill="none" stroke="#3a3a3a" stroke-width="0.8" stroke-linecap="round" stroke-linejoin="round" />
<ellipse cx="597" cy="757.3" rx="3.7" ry="3.7" fill="#989898" stroke="#3a3a3a" stroke-width="1.0"/>
<path d="M608.6 773.5L614 767.5L614.5 763.5Q616 762 618.3 763.2L679.5 836.5Q681 839.5 679.5 842.5Q677.5 845.5 674 845L666.5 846Z" fill="#989898" stroke="#3a3a3a" stroke-width="1.0" stroke-linejoin="round" stroke-linecap="round" />
<path d="M615 768L673 840.5" fill="none" stroke="#3a3a3a" stroke-width="0.8" stroke-linecap="round" stroke-linejoin="round" />
<path d="M617.5 772L669 836" fill="none" stroke="#3a3a3a" stroke-width="0.8" stroke-linecap="round" stroke-linejoin="round" stroke-dasharray="3 1.5"/>
<ellipse cx="676.2" cy="840.8" rx="3.8" ry="3.8" fill="#989898" stroke="#3a3a3a" stroke-width="1.0"/>
<path d="M669.5 861.5L676 858.5L681 860Q684.5 862 684 866L647 965Q645 968.5 641.5 968Q637.5 967 638 963L640.5 958Z" fill="#989898" stroke="#3a3a3a" stroke-width="1.0" stroke-linejoin="round" stroke-linecap="round" />
<path d="M676.5 863L643.5 960M680 866L648 962" fill="none" stroke="#3a3a3a" stroke-width="0.8" stroke-linecap="round" stroke-linejoin="round" />
<path d="M678.2 865L646 961" fill="none" stroke="#555" stroke-width="0.8" stroke-linecap="round" stroke-linejoin="round" stroke-dasharray="1.5 1.5"/>
<ellipse cx="643.2" cy="963.2" rx="3.7" ry="3.7" fill="#989898" stroke="#3a3a3a" stroke-width="1.0"/>
<path d="M668.5 862.5L672.5 861L674.5 868L670 873Z" fill="#989898" stroke="#3a3a3a" stroke-width="0.9" stroke-linejoin="round" stroke-linecap="round" />
<path d="M592.4 966.9L628.8 980.6L621.9 994.4L600.3 986.5L606.2 977.7L591.4 974.8Z" fill="#989898" stroke="#3a3a3a" stroke-width="1.0" stroke-linejoin="round" stroke-linecap="round" />
<ellipse cx="615.5" cy="983.2" rx="1.6" ry="1.6" fill="#ddd" stroke="#3a3a3a" stroke-width="0.8"/>
<path d="M529.6 953.5Q530.5 949.5 534.5 950L541.4 946.3L591 963.5L590.5 972.8L587.5 978Q584 979.5 581.5 977.5L533 958.5Q529.5 957 529.6 953.5Z" fill="#989898" stroke="#3a3a3a" stroke-width="1.0" stroke-linejoin="round" stroke-linecap="round" />
<path d="M536 954.5L583 972" fill="none" stroke="#3a3a3a" stroke-width="0.8" stroke-linecap="round" stroke-linejoin="round" />
<ellipse cx="584.3" cy="974.3" rx="3.6" ry="3.6" fill="#989898" stroke="#3a3a3a" stroke-width="1.0"/>
<path d="M227.0 780.9C227.4 780.4 224.0 781.0 229.6 777.6C235.2 774.2 249.1 766.1 260.8 760.8C272.5 755.5 288.2 749.9 299.7 745.8C311.2 741.7 320.6 739.2 330.0 736.1C339.4 733.0 347.0 729.8 356.3 727.4C365.6 725.0 378.5 722.6 385.8 721.5C393.1 720.4 395.4 720.0 400.0 720.5C404.6 721.0 403.7 722.1 413.5 724.4C423.3 726.7 441.5 728.3 458.9 734.2C476.3 740.1 498.2 749.3 517.8 759.8C537.4 770.3 560.3 786.0 576.7 797.1C593.1 808.2 607.8 819.8 616.0 826.5C624.2 833.2 623.8 833.2 625.8 837.3C627.8 841.4 629.4 844.2 627.8 851.1C626.2 858.0 622.9 868.0 616.0 878.5C609.1 889.0 596.3 904.1 586.5 913.9C576.7 923.7 565.3 931.5 557.1 937.4C548.9 943.3 542.6 946.2 537.4 949.2C532.2 952.2 527.7 954.1 525.7 955.1L517.8 957.1L513.9 953.2L229.6 801.6L225.8 799.7Q222.8 797 223.8 794.5Z" fill="#fff" stroke="#1a1a1a" stroke-width="1.1" stroke-linejoin="round" stroke-linecap="round" />
<path d="M225.8 794.5C231.6 791.9 248.5 784.3 260.8 778.9C273.1 773.5 288.2 766.8 299.7 762.1C311.2 757.5 320.6 754.2 330.0 751.0C339.4 747.8 347.3 745.4 356.3 743.1C365.3 740.8 376.9 738.6 383.8 737.4C390.8 736.2 393.0 735.0 398.0 735.8C403.0 736.6 403.6 738.8 413.7 742.1C423.8 745.4 441.5 749.2 458.9 755.8C476.2 762.3 498.2 771.2 517.8 781.4C537.4 791.5 561.0 806.6 576.7 816.7C592.4 826.8 605.0 836.8 612.0 842.0C619.0 847.2 617.2 846.2 618.5 848.0C619.8 849.8 621.9 847.9 619.9 853.0C617.9 858.1 613.4 868.7 606.2 878.5C599.0 888.3 588.2 902.1 576.7 911.9C565.2 921.7 546.9 931.7 537.4 937.4C527.9 943.1 523.7 943.7 519.8 946.3C515.9 948.9 514.9 952.1 513.9 953.2" fill="none" stroke="#1a1a1a" stroke-width="1.0" stroke-linecap="round" stroke-linejoin="round" />
<path d="M232.2 799.7C237.0 797.6 249.6 792.2 260.8 787.3C272.1 782.4 288.2 775.1 299.7 770.5C311.2 765.9 320.6 762.7 330.0 759.5C339.4 756.3 347.3 753.8 356.3 751.5C365.3 749.2 376.5 747.0 383.8 746.0C391.1 745.0 394.0 744.8 400.0 745.5C406.0 746.2 410.2 746.6 420.0 750.0C429.8 753.4 442.6 758.5 458.9 765.7C475.2 772.9 498.2 782.7 517.8 793.2C537.4 803.7 562.2 819.0 576.7 828.5C591.2 838.0 599.6 845.4 605.0 850.0C610.4 854.6 610.2 851.5 609.0 856.0C607.8 860.5 604.5 868.6 598.0 877.0C591.5 885.4 580.5 897.8 570.0 906.5C559.5 915.2 544.2 923.9 535.0 929.5C525.8 935.1 518.3 938.2 515.0 940.0" fill="none" stroke="#1a1a1a" stroke-width="0.9" stroke-linecap="round" stroke-linejoin="round" />
<path d="M385.8 721.5L383.8 737.4M413.5 724.4L411.6 741.3" fill="none" stroke="#1a1a1a" stroke-width="0.9" stroke-linecap="round" stroke-linejoin="round" />
<path d="M386.5 733Q387.3 736.4 391 736.6L405 738.3Q410 739 411.8 742.5" fill="none" stroke="#1a1a1a" stroke-width="0.8" stroke-linecap="round" stroke-linejoin="round" />
<path d="M604.5 849.5L612.5 842.5M608.8 856L619.5 851.5" fill="none" stroke="#1a1a1a" stroke-width="0.8" stroke-linecap="round" stroke-linejoin="round" />
<path d="M387.4 866.3L297.3 781.0A5.3 5.3 0 0 1 304.5 773.4L394.6 858.7" fill="#fff" stroke="#1a1a1a" stroke-width="1.1" stroke-linejoin="round" stroke-linecap="round" />
<path d="M300.3 780.0L389.4 864.2" stroke="#555" stroke-width="2.0" fill="none"/>
<path d="M300.3 780.0L389.4 864.2" stroke="#cfcfcf" stroke-width="0.5" fill="none"/>
<path d="M419.2 847.5L334.3 770.9A5.3 5.3 0 0 1 341.5 763.1L426.4 839.7" fill="#fff" stroke="#1a1a1a" stroke-width="1.1" stroke-linejoin="round" stroke-linecap="round" />
<path d="M337.4 769.8L421.2 845.4" stroke="#555" stroke-width="2.0" fill="none"/>
<path d="M337.4 769.8L421.2 845.4" stroke="#cfcfcf" stroke-width="0.5" fill="none"/>
<path d="M448.8 829.9L372.6 760.3A5.3 5.3 0 0 1 379.8 752.5L456.0 822.1" fill="#fff" stroke="#1a1a1a" stroke-width="1.1" stroke-linejoin="round" stroke-linecap="round" />
<path d="M375.7 759.2L450.8 827.8" stroke="#555" stroke-width="2.0" fill="none"/>
<path d="M375.7 759.2L450.8 827.8" stroke="#cfcfcf" stroke-width="0.5" fill="none"/>
<path d="M480.8 810.9L429.0 768.0A5.3 5.3 0 0 1 435.8 759.8L487.6 802.7" fill="#fff" stroke="#1a1a1a" stroke-width="1.1" stroke-linejoin="round" stroke-linecap="round" />
<path d="M432.0 766.7L482.7 808.6" stroke="#555" stroke-width="2.0" fill="none"/>
<path d="M432.0 766.7L482.7 808.6" stroke="#cfcfcf" stroke-width="0.5" fill="none"/>
<path d="M490.7 812.4L582.2 838.9A4.3 4.3 0 0 1 579.8 847.1L488.3 820.6" fill="#fff" stroke="#1a1a1a" stroke-width="1.1" stroke-linejoin="round" stroke-linecap="round" />
<path d="M580.1 840.7L490.0 814.6" stroke="#555" stroke-width="2.0" fill="none"/>
<path d="M580.1 840.7L490.0 814.6" stroke="#cfcfcf" stroke-width="0.5" fill="none"/>
<path d="M459.7 829.9L597.7 869.4A4.3 4.3 0 0 1 595.3 877.6L457.3 838.1" fill="#fff" stroke="#1a1a1a" stroke-width="1.1" stroke-linejoin="round" stroke-linecap="round" />
<path d="M595.6 871.2L459.0 832.1" stroke="#555" stroke-width="2.0" fill="none"/>
<path d="M595.6 871.2L459.0 832.1" stroke="#cfcfcf" stroke-width="0.5" fill="none"/>
<path d="M429.7 844.4L580.7 888.9A4.3 4.3 0 0 1 578.3 897.1L427.3 852.6" fill="#fff" stroke="#1a1a1a" stroke-width="1.1" stroke-linejoin="round" stroke-linecap="round" />
<path d="M578.6 890.7L429.0 846.6" stroke="#555" stroke-width="2.0" fill="none"/>
<path d="M578.6 890.7L429.0 846.6" stroke="#cfcfcf" stroke-width="0.5" fill="none"/>
<path d="M399.2 860.9L560.7 908.4A4.3 4.3 0 0 1 558.3 916.6L396.8 869.1" fill="#fff" stroke="#1a1a1a" stroke-width="1.1" stroke-linejoin="round" stroke-linecap="round" />
<path d="M558.6 910.2L398.5 863.1" stroke="#555" stroke-width="2.0" fill="none"/>
<path d="M558.6 910.2L398.5 863.1" stroke="#cfcfcf" stroke-width="0.5" fill="none"/>
<path d="M383.5 864.5L392 869.5L516.5 797L511.5 790Z" fill="#fff" stroke="#1a1a1a" stroke-width="0.95" stroke-linejoin="round" stroke-linecap="round" />
<path d="M388 867L514 793.5" fill="none" stroke="#1a1a1a" stroke-width="0.75" stroke-linecap="round" stroke-linejoin="round" />
<path d="M389 865.0L397.5 860.0" fill="none" stroke="#1a1a1a" stroke-width="0.75" stroke-linecap="round" stroke-linejoin="round" />
<path d="M424 845.0L432.5 840.0" fill="none" stroke="#1a1a1a" stroke-width="0.75" stroke-linecap="round" stroke-linejoin="round" />
<path d="M455 827.0L463.5 822.0" fill="none" stroke="#1a1a1a" stroke-width="0.75" stroke-linecap="round" stroke-linejoin="round" />
<path d="M484 810.0L492.5 805.0" fill="none" stroke="#1a1a1a" stroke-width="0.75" stroke-linecap="round" stroke-linejoin="round" />
<path d="M486 786Q488.5 782.5 493 783.5L521 790.5Q532 794 536.5 801Q540 807.5 536 811.5Q531 814.5 523.5 812.5L514.5 809L509 813.5L502 808.5L506.5 803L492.5 797.5Q485 793 486 786Z" fill="#fff" stroke="#1a1a1a" stroke-width="0.9" stroke-linejoin="round" stroke-linecap="round" />
<path d="M490 788Q491.5 786 495 787L520 793.5Q529 796.5 532.5 802Q534.5 806 532 808.5" fill="none" stroke="#1a1a1a" stroke-width="0.75" stroke-linecap="round" stroke-linejoin="round" />
<path d="M512 790.5Q516 793.5 514.5 797.5Q513.5 801.5 516 806" fill="none" stroke="#1a1a1a" stroke-width="0.75" stroke-linecap="round" stroke-linejoin="round" />
<path d="M233.2 797.2L241 796.5L521.5 945.5L516 953Z" fill="#989898" stroke="#3a3a3a" stroke-width="1.0" stroke-linejoin="round" stroke-linecap="round" />
<path d="M229.2 803.5Q229.5 799.8 234.5 799.8L236.5 800.3L511.5 946.5Q513.5 950.5 511 953.3Q508 955.6 504.5 953.8L231.2 806.6Q229.2 805.5 229.2 803.5Z" fill="#989898" stroke="#3a3a3a" stroke-width="1.0" stroke-linejoin="round" stroke-linecap="round" />
<path d="M236 802.2L508 947.0" fill="none" stroke="#3a3a3a" stroke-width="1.2" stroke-linecap="round" stroke-linejoin="round" />
<ellipse cx="508.2" cy="949.8" rx="3.9" ry="3.9" fill="#989898" stroke="#3a3a3a" stroke-width="1.0"/>
<ellipse cx="516.3" cy="947.3" rx="3.3" ry="3.3" fill="#989898" stroke="#3a3a3a" stroke-width="1.0"/>
</g>
<g id="labels" opacity="0.995">
<text x="143.8" y="192.4" textLength="47.7" lengthAdjust="spacingAndGlyphs">514079</text>
<path d="M194 188.4H268" fill="none" stroke="#1a1a1a" stroke-width="1.25" stroke-linecap="round" stroke-linejoin="round" />
<text x="127.9" y="292.6" textLength="63.6" lengthAdjust="spacingAndGlyphs">51407830</text>
<path d="M194 287.9H274.5" fill="none" stroke="#1a1a1a" stroke-width="1.25" stroke-linecap="round" stroke-linejoin="round" />
<text x="143.8" y="429.0" textLength="47.7" lengthAdjust="spacingAndGlyphs">510433</text>
<path d="M194 424.6H318" fill="none" stroke="#1a1a1a" stroke-width="1.25" stroke-linecap="round" stroke-linejoin="round" />
<text x="373.8" y="363.5" textLength="79.5" lengthAdjust="spacingAndGlyphs">5219570110</text>
<path d="M455 359.5H504.5V408" fill="none" stroke="#1a1a1a" stroke-width="1.25" stroke-linecap="round" stroke-linejoin="round" />
<text x="324.8" y="653.3" textLength="47.7" lengthAdjust="spacingAndGlyphs">514080</text>
<path d="M377 648.3H417.8V683" fill="none" stroke="#1a1a1a" stroke-width="1.25" stroke-linecap="round" stroke-linejoin="round" />
<rect x="320.6" y="641" width="56" height="16.4" fill="none" stroke="#1a1a1a" stroke-width="1"/>
<text x="739.8" y="249.8" textLength="65.2" lengthAdjust="spacingAndGlyphs">702132(2)</text>
<path d="M697.7 247.2H736.6" fill="none" stroke="#1a1a1a" stroke-width="1.25" stroke-linecap="round" stroke-linejoin="round" />
<text x="738.1" y="330.0" textLength="63.6" lengthAdjust="spacingAndGlyphs">52195601</text>
<path d="M697 326.7H735.9" fill="none" stroke="#1a1a1a" stroke-width="1.25" stroke-linecap="round" stroke-linejoin="round" />
<text x="738.5" y="386.5" textLength="65.2" lengthAdjust="spacingAndGlyphs">704538(2)</text>
<path d="M698.6 384H735.7" fill="none" stroke="#1a1a1a" stroke-width="1.25" stroke-linecap="round" stroke-linejoin="round" />
<text x="738.5" y="415.3" textLength="65.2" lengthAdjust="spacingAndGlyphs">704537(2)</text>
<path d="M696.6 412.1H735.7" fill="none" stroke="#1a1a1a" stroke-width="1.25" stroke-linecap="round" stroke-linejoin="round" />
<text x="753.6" y="461.5" textLength="65.2" lengthAdjust="spacingAndGlyphs">703363(2)</text>
<path d="M713 458.4H750.6" fill="none" stroke="#1a1a1a" stroke-width="1.25" stroke-linecap="round" stroke-linejoin="round" />
<text x="753.6" y="494.3" textLength="65.2" lengthAdjust="spacingAndGlyphs">703005(2)</text>
<path d="M716.3 491.3H750.6" fill="none" stroke="#1a1a1a" stroke-width="1.25" stroke-linecap="round" stroke-linejoin="round" />
<text x="753.6" y="618.6" textLength="65.2" lengthAdjust="spacingAndGlyphs">700137(2)</text>
<path d="M716.3 615H750.6" fill="none" stroke="#1a1a1a" stroke-width="1.25" stroke-linecap="round" stroke-linejoin="round" />
<text x="753.6" y="638.5" textLength="65.2" lengthAdjust="spacingAndGlyphs">704536(2)</text>
<path d="M713 634.5H750.6" fill="none" stroke="#1a1a1a" stroke-width="1.25" stroke-linecap="round" stroke-linejoin="round" />
<text x="1094.7" y="272.8" textLength="47.7" lengthAdjust="spacingAndGlyphs">700166</text>
<path d="M1090 268.4H1060.3V312.4" fill="none" stroke="#1a1a1a" stroke-width="1.25" stroke-linecap="round" stroke-linejoin="round" />
<text x="1289.8" y="348.7" textLength="63.6" lengthAdjust="spacingAndGlyphs">52191201</text>
<path d="M1285 344.7H1209.6V389.7" fill="none" stroke="#1a1a1a" stroke-width="1.25" stroke-linecap="round" stroke-linejoin="round" />
<text x="1230.5" y="537.4" textLength="65.2" lengthAdjust="spacingAndGlyphs">703005(4)</text>
<path d="M1225 533.5H1187.4L1163.8 550.7" fill="none" stroke="#1a1a1a" stroke-width="1.25" stroke-linecap="round" stroke-linejoin="round" />
<text x="1230.5" y="569.9" textLength="65.2" lengthAdjust="spacingAndGlyphs">703363(4)</text>
<path d="M1225 566H1180.3" fill="none" stroke="#1a1a1a" stroke-width="1.25" stroke-linecap="round" stroke-linejoin="round" />
<text x="1002.5" y="549.2" textLength="65.2" lengthAdjust="spacingAndGlyphs">704536(4)</text>
<path d="M1070.2 545.9H1117.8" fill="none" stroke="#1a1a1a" stroke-width="1.25" stroke-linecap="round" stroke-linejoin="round" />
<text x="1002.5" y="567.6" textLength="65.2" lengthAdjust="spacingAndGlyphs">700137(4)</text>
<path d="M1070.2 564.1H1128.9V553" fill="none" stroke="#1a1a1a" stroke-width="1.25" stroke-linecap="round" stroke-linejoin="round" />
<text x="1218.3" y="643.1" textLength="47.7" lengthAdjust="spacingAndGlyphs">514182</text>
<path d="M1213.4 639.2H1107.5" fill="none" stroke="#1a1a1a" stroke-width="1.25" stroke-linecap="round" stroke-linejoin="round" />
<text x="992.5" y="689.0" textLength="63.6" lengthAdjust="spacingAndGlyphs">51424330</text>
<path d="M1058.9 684.9H1100.1V720.3" fill="none" stroke="#1a1a1a" stroke-width="1.25" stroke-linecap="round" stroke-linejoin="round" />
<text x="933.9" y="789.6" textLength="47.7" lengthAdjust="spacingAndGlyphs">514183</text>
<path d="M983.8 784.9H1055.3" fill="none" stroke="#1a1a1a" stroke-width="1.25" stroke-linecap="round" stroke-linejoin="round" />
<text x="1234.0" y="788.2" textLength="65.2" lengthAdjust="spacingAndGlyphs">704536(2)</text>
<path d="M1227.1 783.8H1180.4" fill="none" stroke="#1a1a1a" stroke-width="1.25" stroke-linecap="round" stroke-linejoin="round" />
<text x="1234.0" y="806.1" textLength="65.2" lengthAdjust="spacingAndGlyphs">700137(2)</text>
<path d="M1227.1 800.6H1168" fill="none" stroke="#1a1a1a" stroke-width="1.25" stroke-linecap="round" stroke-linejoin="round" />
<text x="969.5" y="858.3" textLength="65.2" lengthAdjust="spacingAndGlyphs">700137(2)</text>
<path d="M1036.6 853.6H1107.5" fill="none" stroke="#1a1a1a" stroke-width="1.25" stroke-linecap="round" stroke-linejoin="round" />
<text x="967.3" y="880.0" textLength="65.2" lengthAdjust="spacingAndGlyphs">703563(2)</text>
<path d="M1034.7 877.3H1081.4" fill="none" stroke="#1a1a1a" stroke-width="1.25" stroke-linecap="round" stroke-linejoin="round" />
</g>
</svg>
</body></html>
